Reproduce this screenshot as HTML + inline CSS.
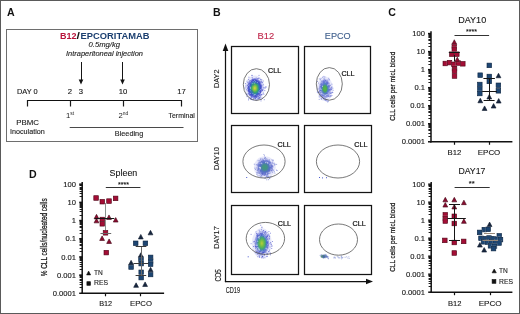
<!DOCTYPE html>
<html><head><meta charset="utf-8"><style>
html,body{margin:0;padding:0;background:#fff;}
svg{display:block;will-change:transform;}
text{font-family:"Liberation Sans",sans-serif;}
</style></head><body>
<svg width="520" height="314" viewBox="0 0 520 314">
<rect x="0" y="0" width="520" height="314" fill="#fff"/>
<text x="7" y="15.6" font-size="10.6" fill="#111" text-anchor="start" font-weight="bold" >A</text>
<rect x="6.5" y="29.5" width="191" height="112" fill="none" stroke="#6e6e6e" stroke-width="1"/>
<text x="60" y="39" font-size="9.1" fill="#b8123a" text-anchor="start" font-weight="bold" textLength="16.5" lengthAdjust="spacingAndGlyphs" >B12</text>
<text x="76.6" y="39" font-size="9.1" fill="#111" text-anchor="start" font-weight="bold" textLength="3.4" lengthAdjust="spacingAndGlyphs" >/</text>
<text x="80.6" y="39" font-size="9.1" fill="#1b3f70" text-anchor="start" font-weight="bold" textLength="68.8" lengthAdjust="spacingAndGlyphs" >EPCORITAMAB</text>
<text x="88.5" y="47.3" font-size="7.7" fill="#222" text-anchor="start" font-style="italic" textLength="31.5" lengthAdjust="spacingAndGlyphs"  stroke="#222" stroke-width="0.12">0.5mg/kg</text>
<text x="66" y="55.6" font-size="7.6" fill="#222" text-anchor="start" font-style="italic" textLength="77" lengthAdjust="spacingAndGlyphs"  stroke="#222" stroke-width="0.12">Intraperitoneal injection</text>
<line x1="81.5" y1="62" x2="81.5" y2="80" stroke="#151515" stroke-width="1"/>
<path d="M78.7 79.5L83.3 79.5L81 84.5Z" fill="#111"/>
<line x1="122.5" y1="62" x2="122.5" y2="80" stroke="#151515" stroke-width="1"/>
<path d="M120.2 79.5L124.8 79.5L122.5 84.5Z" fill="#111"/>
<text x="17" y="94" font-size="7.9" fill="#151515" text-anchor="start" textLength="20.7" lengthAdjust="spacingAndGlyphs"  stroke="#151515" stroke-width="0.12">DAY 0</text>
<text x="70" y="94" font-size="7.7" fill="#151515" text-anchor="middle"  stroke="#151515" stroke-width="0.12">2</text>
<text x="81" y="94" font-size="7.7" fill="#151515" text-anchor="middle"  stroke="#151515" stroke-width="0.12">3</text>
<text x="123" y="94" font-size="7.7" fill="#151515" text-anchor="middle"  stroke="#151515" stroke-width="0.12">10</text>
<text x="181.5" y="94" font-size="7.7" fill="#151515" text-anchor="middle"  stroke="#151515" stroke-width="0.12">17</text>
<line x1="27" y1="100.5" x2="182" y2="100.5" stroke="#111" stroke-width="1.2"/>
<line x1="27.5" y1="100" x2="27.5" y2="106.5" stroke="#1a1a1a" stroke-width="1.2"/>
<line x1="70.5" y1="100" x2="70.5" y2="106.5" stroke="#1a1a1a" stroke-width="1.2"/>
<line x1="123.5" y1="100" x2="123.5" y2="106.5" stroke="#1a1a1a" stroke-width="1.2"/>
<line x1="181.5" y1="100" x2="181.5" y2="106.5" stroke="#1a1a1a" stroke-width="1.2"/>
<text x="66" y="117.7" font-size="7.7" fill="#222">1<tspan font-size="4.9" dy="-3.2">st</tspan></text>
<text x="118.4" y="117.7" font-size="7.7" fill="#222">2<tspan font-size="4.9" dy="-3.2">nd</tspan></text>
<text x="168.5" y="118" font-size="7.6" fill="#1c1c1c" text-anchor="start" textLength="26.3" lengthAdjust="spacingAndGlyphs"  stroke="#1c1c1c" stroke-width="0.12">Terminal</text>
<text x="16.2" y="124.7" font-size="8.0" fill="#1c1c1c" text-anchor="start" textLength="22.7" lengthAdjust="spacingAndGlyphs"  stroke="#1c1c1c" stroke-width="0.12">PBMC</text>
<text x="10" y="134" font-size="7.6" fill="#1c1c1c" text-anchor="start" textLength="34.8" lengthAdjust="spacingAndGlyphs"  stroke="#1c1c1c" stroke-width="0.12">Inoculation</text>
<line x1="69.7" y1="127.5" x2="183.5" y2="127.5" stroke="#4a4a4a" stroke-width="1.1"/>
<text x="114.8" y="136" font-size="7.7" fill="#1c1c1c" text-anchor="start" textLength="28.4" lengthAdjust="spacingAndGlyphs"  stroke="#1c1c1c" stroke-width="0.12">Bleeding</text>
<text x="213" y="15.9" font-size="10.6" fill="#111" text-anchor="start" font-weight="bold" >B</text>
<text x="257.6" y="39" font-size="9" fill="#c0284c" text-anchor="start" textLength="16.7" lengthAdjust="spacingAndGlyphs"  stroke="#c0284c" stroke-width="0.12">B12</text>
<text x="324.8" y="38.6" font-size="9" fill="#3f5f8c" text-anchor="start" textLength="25.9" lengthAdjust="spacingAndGlyphs"  stroke="#3f5f8c" stroke-width="0.12">EPCO</text>
<rect x="231.5" y="46.5" width="67.0" height="67.0" fill="none" stroke="#141414" stroke-width="1.25"/>
<rect x="304.5" y="46.5" width="66.0" height="67.0" fill="none" stroke="#141414" stroke-width="1.25"/>
<rect x="231.5" y="125.5" width="67.0" height="67.0" fill="none" stroke="#141414" stroke-width="1.25"/>
<rect x="304.5" y="125.5" width="67.0" height="67.0" fill="none" stroke="#141414" stroke-width="1.25"/>
<rect x="231.5" y="205.5" width="67.0" height="69.0" fill="none" stroke="#141414" stroke-width="1.25"/>
<rect x="304.5" y="205.5" width="67.0" height="69.0" fill="none" stroke="#141414" stroke-width="1.25"/>
<line x1="225.5" y1="49" x2="225.5" y2="282.1" stroke="#111" stroke-width="1.25"/>
<path d="M225.5 43.5L228.3 51L222.7 51Z" fill="#111"/>
<line x1="224.9" y1="281.5" x2="367" y2="281.5" stroke="#111" stroke-width="1.25"/>
<path d="M373 281.5L366 278.7L366 284.3Z" fill="#111"/>
<text x="219.2" y="78.7" font-size="7" fill="#222" text-anchor="middle" textLength="18.4" lengthAdjust="spacingAndGlyphs" transform="rotate(-90 219.2 78.7)"  stroke="#222" stroke-width="0.12">DAY2</text>
<text x="219.2" y="158.5" font-size="7" fill="#222" text-anchor="middle" textLength="23" lengthAdjust="spacingAndGlyphs" transform="rotate(-90 219.2 158.5)"  stroke="#222" stroke-width="0.12">DAY10</text>
<text x="219.2" y="237.5" font-size="7" fill="#222" text-anchor="middle" textLength="22.3" lengthAdjust="spacingAndGlyphs" transform="rotate(-90 219.2 237.5)"  stroke="#222" stroke-width="0.12">DAY17</text>
<text x="220.6" y="275.4" font-size="9.4" fill="#1a1a1a" text-anchor="middle" textLength="12.2" lengthAdjust="spacingAndGlyphs" transform="rotate(-90 220.6 275.4)" stroke="#1a1a1a" stroke-width="0.12">CD5</text>
<text x="225.7" y="292.5" font-size="9.4" fill="#1a1a1a" text-anchor="start" textLength="14.3" lengthAdjust="spacingAndGlyphs" stroke="#1a1a1a" stroke-width="0.12">CD19</text>
<defs><radialGradient id="bg1"><stop offset="0" stop-color="#e0d43a" stop-opacity="1"/><stop offset="0.22" stop-color="#8cc444" stop-opacity="1"/><stop offset="0.42" stop-color="#3aa868" stop-opacity="1"/><stop offset="0.6" stop-color="#2f78b8" stop-opacity="1"/><stop offset="0.78" stop-color="#3a44c8" stop-opacity="0.95"/><stop offset="1" stop-color="#5a62d6" stop-opacity="0.45"/></radialGradient></defs>
<ellipse cx="254.8" cy="88.2" rx="9.9" ry="12.8" fill="#a0a4ec" opacity="0.25"/>
<ellipse cx="254.8" cy="88.2" rx="7.6" ry="10.2" fill="url(#bg1)" opacity="1.0"/>
<rect x="250.8" y="99.0" width="1" height="1" fill="#4048c8" opacity="0.55"/>
<rect x="263.4" y="93.8" width="1" height="1" fill="#4048c8" opacity="0.55"/>
<rect x="247.8" y="86.0" width="1" height="1" fill="#4048c8" opacity="0.55"/>
<rect x="246.8" y="87.7" width="1" height="1" fill="#4048c8" opacity="0.55"/>
<rect x="261.6" y="90.4" width="1" height="1" fill="#4048c8" opacity="0.55"/>
<rect x="261.4" y="93.9" width="1" height="1" fill="#4048c8" opacity="0.55"/>
<rect x="247.7" y="93.1" width="1" height="1" fill="#4048c8" opacity="0.55"/>
<rect x="255.9" y="97.2" width="1" height="1" fill="#4048c8" opacity="0.55"/>
<rect x="248.1" y="78.9" width="1" height="1" fill="#4048c8" opacity="0.55"/>
<rect x="249.3" y="93.8" width="1" height="1" fill="#4048c8" opacity="0.55"/>
<rect x="265.4" y="86.1" width="1" height="1" fill="#4048c8" opacity="0.55"/>
<rect x="252.7" y="99.3" width="1" height="1" fill="#4048c8" opacity="0.55"/>
<rect x="260.1" y="97.4" width="1" height="1" fill="#4048c8" opacity="0.55"/>
<rect x="258.3" y="77.7" width="1" height="1" fill="#4048c8" opacity="0.55"/>
<rect x="257.1" y="94.9" width="1" height="1" fill="#4048c8" opacity="0.55"/>
<rect x="250.3" y="94.4" width="1" height="1" fill="#4048c8" opacity="0.55"/>
<rect x="247.0" y="85.0" width="1" height="1" fill="#4048c8" opacity="0.55"/>
<rect x="256.9" y="98.3" width="1" height="1" fill="#4048c8" opacity="0.55"/>
<rect x="252.1" y="80.5" width="1" height="1" fill="#4048c8" opacity="0.55"/>
<rect x="247.7" y="82.5" width="1" height="1" fill="#4048c8" opacity="0.55"/>
<rect x="248.4" y="90.8" width="1" height="1" fill="#4048c8" opacity="0.55"/>
<rect x="251.5" y="74.9" width="1" height="1" fill="#4048c8" opacity="0.55"/>
<rect x="255.0" y="95.9" width="1" height="1" fill="#4048c8" opacity="0.55"/>
<rect x="259.5" y="81.9" width="1" height="1" fill="#4048c8" opacity="0.55"/>
<rect x="254.0" y="79.6" width="1" height="1" fill="#4048c8" opacity="0.55"/>
<rect x="263.8" y="99.2" width="1" height="1" fill="#4048c8" opacity="0.55"/>
<rect x="248.1" y="93.2" width="1" height="1" fill="#4048c8" opacity="0.55"/>
<rect x="248.2" y="88.8" width="1" height="1" fill="#4048c8" opacity="0.55"/>
<rect x="260.8" y="90.2" width="1" height="1" fill="#4048c8" opacity="0.55"/>
<rect x="250.2" y="85.2" width="1" height="1" fill="#4048c8" opacity="0.55"/>
<rect x="259.5" y="82.0" width="1" height="1" fill="#4048c8" opacity="0.55"/>
<rect x="246.5" y="80.7" width="1" height="1" fill="#4048c8" opacity="0.55"/>
<rect x="250.8" y="85.3" width="1" height="1" fill="#4048c8" opacity="0.55"/>
<rect x="262.8" y="84.3" width="1" height="1" fill="#4048c8" opacity="0.55"/>
<rect x="247.6" y="89.8" width="1" height="1" fill="#4048c8" opacity="0.55"/>
<rect x="252.7" y="79.1" width="1" height="1" fill="#4048c8" opacity="0.55"/>
<rect x="248.4" y="76.7" width="1" height="1" fill="#4048c8" opacity="0.55"/>
<rect x="253.2" y="98.0" width="1" height="1" fill="#4048c8" opacity="0.55"/>
<rect x="249.2" y="94.8" width="1" height="1" fill="#4048c8" opacity="0.55"/>
<rect x="247.7" y="90.5" width="1" height="1" fill="#4048c8" opacity="0.55"/>
<rect x="258.8" y="97.6" width="1" height="1" fill="#4048c8" opacity="0.55"/>
<rect x="255.7" y="77.5" width="1" height="1" fill="#4048c8" opacity="0.55"/>
<rect x="260.0" y="95.6" width="1" height="1" fill="#4048c8" opacity="0.55"/>
<rect x="261.2" y="79.2" width="1" height="1" fill="#4048c8" opacity="0.55"/>
<rect x="259.7" y="91.8" width="1" height="1" fill="#4048c8" opacity="0.55"/>
<rect x="260.9" y="80.8" width="1" height="1" fill="#4048c8" opacity="0.55"/>
<rect x="258.4" y="77.9" width="1" height="1" fill="#4048c8" opacity="0.55"/>
<rect x="249.1" y="92.7" width="1" height="1" fill="#4048c8" opacity="0.55"/>
<rect x="248.0" y="99.4" width="1" height="1" fill="#4048c8" opacity="0.55"/>
<rect x="257.6" y="93.4" width="1" height="1" fill="#4048c8" opacity="0.55"/>
<rect x="258.3" y="97.5" width="1" height="1" fill="#4048c8" opacity="0.55"/>
<rect x="246.0" y="89.3" width="1" height="1" fill="#4048c8" opacity="0.55"/>
<rect x="248.4" y="82.8" width="1" height="1" fill="#4048c8" opacity="0.55"/>
<rect x="248.0" y="93.3" width="1" height="1" fill="#4048c8" opacity="0.55"/>
<rect x="252.2" y="92.0" width="1" height="1" fill="#4048c8" opacity="0.55"/>
<rect x="252.6" y="80.8" width="1" height="1" fill="#4048c8" opacity="0.55"/>
<rect x="249.1" y="87.5" width="1" height="1" fill="#4048c8" opacity="0.55"/>
<rect x="260.4" y="90.8" width="1" height="1" fill="#4048c8" opacity="0.55"/>
<rect x="261.5" y="81.7" width="1" height="1" fill="#4048c8" opacity="0.55"/>
<rect x="256.1" y="82.7" width="1" height="1" fill="#4048c8" opacity="0.55"/>
<rect x="249.4" y="94.1" width="1" height="1" fill="#4048c8" opacity="0.55"/>
<rect x="249.4" y="80.1" width="1" height="1" fill="#4048c8" opacity="0.55"/>
<rect x="262.8" y="92.6" width="1" height="1" fill="#4048c8" opacity="0.55"/>
<rect x="259.0" y="97.4" width="1" height="1" fill="#4048c8" opacity="0.55"/>
<rect x="250.7" y="96.8" width="1" height="1" fill="#4048c8" opacity="0.55"/>
<rect x="259.2" y="96.5" width="1" height="1" fill="#4048c8" opacity="0.55"/>
<rect x="260.7" y="94.1" width="1" height="1" fill="#4048c8" opacity="0.55"/>
<rect x="260.4" y="80.7" width="1" height="1" fill="#4048c8" opacity="0.55"/>
<rect x="248.5" y="80.8" width="1" height="1" fill="#4048c8" opacity="0.55"/>
<rect x="249.8" y="97.7" width="1" height="1" fill="#4048c8" opacity="0.55"/>
<rect x="248.3" y="98.2" width="1" height="1" fill="#4048c8" opacity="0.55"/>
<rect x="264.7" y="87.6" width="1" height="1" fill="#4048c8" opacity="0.55"/>
<rect x="248.1" y="90.2" width="1" height="1" fill="#4048c8" opacity="0.55"/>
<rect x="260.9" y="94.4" width="1" height="1" fill="#4048c8" opacity="0.55"/>
<rect x="250.8" y="96.4" width="1" height="1" fill="#4048c8" opacity="0.55"/>
<rect x="260.5" y="100.4" width="1" height="1" fill="#4048c8" opacity="0.55"/>
<rect x="264.3" y="90.1" width="1" height="1" fill="#4048c8" opacity="0.55"/>
<rect x="259.0" y="95.7" width="1" height="1" fill="#4048c8" opacity="0.55"/>
<rect x="245.5" y="84.7" width="1" height="1" fill="#4048c8" opacity="0.55"/>
<rect x="262.7" y="86.8" width="1" height="1" fill="#4048c8" opacity="0.55"/>
<rect x="259.5" y="80.9" width="1" height="1" fill="#4048c8" opacity="0.55"/>
<rect x="250.5" y="94.6" width="1" height="1" fill="#4048c8" opacity="0.55"/>
<rect x="258.7" y="97.4" width="1" height="1" fill="#4048c8" opacity="0.55"/>
<rect x="255.8" y="80.9" width="1" height="1" fill="#4048c8" opacity="0.55"/>
<rect x="250.9" y="97.8" width="1" height="1" fill="#4048c8" opacity="0.55"/>
<rect x="265.4" y="86.9" width="1" height="1" fill="#4048c8" opacity="0.55"/>
<rect x="260.0" y="78.9" width="1" height="1" fill="#4048c8" opacity="0.55"/>
<rect x="254.5" y="81.9" width="1" height="1" fill="#4048c8" opacity="0.55"/>
<rect x="255.7" y="96.2" width="1" height="1" fill="#4048c8" opacity="0.55"/>
<rect x="262.1" y="90.0" width="1" height="1" fill="#4048c8" opacity="0.55"/>
<rect x="262.0" y="89.9" width="1" height="1" fill="#4048c8" opacity="0.55"/>
<rect x="251.7" y="77.1" width="1" height="1" fill="#4048c8" opacity="0.55"/>
<rect x="258.5" y="86.8" width="1" height="1" fill="#4048c8" opacity="0.55"/>
<rect x="263.7" y="87.3" width="1" height="1" fill="#4048c8" opacity="0.55"/>
<rect x="261.4" y="85.6" width="1" height="1" fill="#4048c8" opacity="0.55"/>
<rect x="256.0" y="99.5" width="1" height="1" fill="#4048c8" opacity="0.55"/>
<rect x="257.5" y="98.7" width="1" height="1" fill="#4048c8" opacity="0.55"/>
<rect x="262.8" y="80.5" width="1" height="1" fill="#4048c8" opacity="0.55"/>
<rect x="257.6" y="82.3" width="1" height="1" fill="#4048c8" opacity="0.55"/>
<rect x="257.2" y="78.1" width="1" height="1" fill="#4048c8" opacity="0.55"/>
<rect x="259.7" y="92.0" width="1" height="1" fill="#4048c8" opacity="0.55"/>
<rect x="255.7" y="82.3" width="1" height="1" fill="#4048c8" opacity="0.55"/>
<rect x="254.8" y="79.4" width="1" height="1" fill="#4048c8" opacity="0.55"/>
<rect x="256.7" y="78.1" width="1" height="1" fill="#4048c8" opacity="0.55"/>
<rect x="250.3" y="98.7" width="1" height="1" fill="#4048c8" opacity="0.55"/>
<rect x="252.1" y="90.9" width="1" height="1" fill="#4048c8" opacity="0.55"/>
<rect x="246.5" y="96.1" width="1" height="1" fill="#4048c8" opacity="0.55"/>
<rect x="258.0" y="96.1" width="1" height="1" fill="#4048c8" opacity="0.55"/>
<rect x="261.6" y="97.5" width="1" height="1" fill="#4048c8" opacity="0.55"/>
<rect x="258.5" y="74.9" width="1" height="1" fill="#4048c8" opacity="0.55"/>
<rect x="260.7" y="98.6" width="1" height="1" fill="#4048c8" opacity="0.55"/>
<rect x="252.9" y="84.3" width="1" height="1" fill="#4048c8" opacity="0.55"/>
<rect x="250.8" y="95.5" width="1" height="1" fill="#4048c8" opacity="0.55"/>
<rect x="262.1" y="89.1" width="1" height="1" fill="#4048c8" opacity="0.55"/>
<rect x="261.1" y="86.6" width="1" height="1" fill="#4048c8" opacity="0.55"/>
<rect x="260.2" y="85.0" width="1" height="1" fill="#4048c8" opacity="0.55"/>
<rect x="245.9" y="93.5" width="1" height="1" fill="#4048c8" opacity="0.55"/>
<rect x="256.1" y="95.2" width="1" height="1" fill="#4048c8" opacity="0.55"/>
<rect x="254.7" y="98.0" width="1" height="1" fill="#4048c8" opacity="0.55"/>
<rect x="247.3" y="82.1" width="1" height="1" fill="#4048c8" opacity="0.55"/>
<rect x="254.4" y="97.3" width="1" height="1" fill="#4048c8" opacity="0.55"/>
<rect x="261.6" y="82.4" width="1" height="1" fill="#4048c8" opacity="0.55"/>
<rect x="251.5" y="94.0" width="1" height="1" fill="#4048c8" opacity="0.55"/>
<rect x="261.5" y="82.0" width="1" height="1" fill="#4048c8" opacity="0.55"/>
<rect x="246.6" y="94.2" width="1" height="1" fill="#4048c8" opacity="0.55"/>
<rect x="248.3" y="86.4" width="1" height="1" fill="#4048c8" opacity="0.55"/>
<rect x="245.5" y="86.3" width="1" height="1" fill="#4048c8" opacity="0.55"/>
<rect x="258.0" y="97.8" width="1" height="1" fill="#4048c8" opacity="0.55"/>
<rect x="262.7" y="88.5" width="1" height="1" fill="#4048c8" opacity="0.55"/>
<rect x="248.3" y="89.7" width="1" height="1" fill="#4048c8" opacity="0.55"/>
<rect x="253.8" y="80.0" width="1" height="1" fill="#4048c8" opacity="0.55"/>
<rect x="247.8" y="87.1" width="1" height="1" fill="#4048c8" opacity="0.55"/>
<rect x="247.5" y="84.6" width="1" height="1" fill="#4048c8" opacity="0.55"/>
<rect x="248.5" y="84.8" width="1" height="1" fill="#4048c8" opacity="0.55"/>
<rect x="254.9" y="97.7" width="1" height="1" fill="#4048c8" opacity="0.55"/>
<rect x="244.4" y="87.5" width="1" height="1" fill="#4048c8" opacity="0.55"/>
<rect x="247.6" y="84.2" width="1" height="1" fill="#4048c8" opacity="0.55"/>
<rect x="251.1" y="90.0" width="1" height="1" fill="#4048c8" opacity="0.55"/>
<rect x="250.5" y="83.3" width="1" height="1" fill="#4048c8" opacity="0.55"/>
<rect x="252.1" y="78.7" width="1" height="1" fill="#4048c8" opacity="0.55"/>
<rect x="249.3" y="90.5" width="1" height="1" fill="#4048c8" opacity="0.55"/>
<rect x="261.5" y="84.7" width="1" height="1" fill="#4048c8" opacity="0.55"/>
<rect x="251.5" y="74.9" width="1" height="1" fill="#4048c8" opacity="0.55"/>
<rect x="254.5" y="94.6" width="1" height="1" fill="#4048c8" opacity="0.55"/>
<rect x="244.9" y="83.0" width="1" height="1" fill="#4048c8" opacity="0.55"/>
<rect x="259.0" y="94.8" width="1" height="1" fill="#4048c8" opacity="0.55"/>
<rect x="259.8" y="94.7" width="1" height="1" fill="#4048c8" opacity="0.55"/>
<rect x="255.3" y="98.7" width="1" height="1" fill="#4048c8" opacity="0.55"/>
<rect x="260.3" y="91.9" width="1" height="1" fill="#4048c8" opacity="0.55"/>
<rect x="258.8" y="84.1" width="1" height="1" fill="#4048c8" opacity="0.55"/>
<rect x="258.5" y="95.5" width="0.9" height="0.9" fill="#fff" opacity="0.45"/>
<rect x="252.3" y="82.9" width="0.9" height="0.9" fill="#fff" opacity="0.45"/>
<rect x="260.3" y="81.5" width="0.9" height="0.9" fill="#fff" opacity="0.45"/>
<rect x="256.2" y="98.0" width="0.9" height="0.9" fill="#fff" opacity="0.45"/>
<rect x="250.1" y="92.9" width="0.9" height="0.9" fill="#fff" opacity="0.45"/>
<rect x="261.8" y="87.6" width="0.9" height="0.9" fill="#fff" opacity="0.45"/>
<rect x="257.8" y="94.6" width="0.9" height="0.9" fill="#fff" opacity="0.45"/>
<rect x="249.5" y="87.5" width="0.9" height="0.9" fill="#fff" opacity="0.45"/>
<rect x="256.6" y="94.9" width="0.9" height="0.9" fill="#fff" opacity="0.45"/>
<rect x="254.1" y="82.6" width="0.9" height="0.9" fill="#fff" opacity="0.45"/>
<rect x="249.4" y="85.7" width="0.9" height="0.9" fill="#fff" opacity="0.45"/>
<rect x="260.1" y="89.0" width="0.9" height="0.9" fill="#fff" opacity="0.45"/>
<rect x="250.6" y="82.6" width="0.9" height="0.9" fill="#fff" opacity="0.45"/>
<rect x="261.7" y="92.2" width="0.9" height="0.9" fill="#fff" opacity="0.45"/>
<rect x="256.6" y="78.4" width="0.9" height="0.9" fill="#fff" opacity="0.45"/>
<rect x="258.8" y="92.4" width="0.9" height="0.9" fill="#fff" opacity="0.45"/>
<rect x="261.4" y="90.5" width="0.9" height="0.9" fill="#fff" opacity="0.45"/>
<rect x="254.2" y="94.4" width="0.9" height="0.9" fill="#fff" opacity="0.45"/>
<rect x="248.4" y="92.8" width="0.9" height="0.9" fill="#fff" opacity="0.45"/>
<rect x="256.9" y="82.0" width="0.9" height="0.9" fill="#fff" opacity="0.45"/>
<rect x="259.1" y="96.1" width="0.9" height="0.9" fill="#fff" opacity="0.45"/>
<rect x="248.9" y="84.4" width="0.9" height="0.9" fill="#fff" opacity="0.45"/>
<rect x="258.5" y="91.3" width="0.9" height="0.9" fill="#fff" opacity="0.45"/>
<rect x="252.7" y="81.2" width="0.9" height="0.9" fill="#fff" opacity="0.45"/>
<rect x="261.4" y="92.6" width="0.9" height="0.9" fill="#fff" opacity="0.45"/>
<rect x="250.2" y="81.3" width="0.9" height="0.9" fill="#fff" opacity="0.45"/>
<rect x="260.9" y="93.0" width="0.9" height="0.9" fill="#fff" opacity="0.45"/>
<rect x="261.3" y="92.1" width="0.9" height="0.9" fill="#fff" opacity="0.45"/>
<rect x="249.7" y="90.3" width="0.9" height="0.9" fill="#fff" opacity="0.45"/>
<rect x="247.9" y="85.0" width="0.9" height="0.9" fill="#fff" opacity="0.45"/>
<rect x="254.3" y="94.4" width="0.9" height="0.9" fill="#fff" opacity="0.45"/>
<rect x="249.9" y="87.1" width="0.9" height="0.9" fill="#fff" opacity="0.45"/>
<rect x="258.5" y="92.2" width="0.9" height="0.9" fill="#fff" opacity="0.45"/>
<rect x="259.4" y="90.2" width="0.9" height="0.9" fill="#fff" opacity="0.45"/>
<rect x="252.8" y="94.7" width="0.9" height="0.9" fill="#fff" opacity="0.45"/>
<rect x="255.1" y="81.3" width="0.9" height="0.9" fill="#fff" opacity="0.45"/>
<rect x="250.0" y="88.2" width="0.9" height="0.9" fill="#fff" opacity="0.45"/>
<rect x="252.4" y="92.9" width="0.9" height="0.9" fill="#fff" opacity="0.45"/>
<rect x="254.8" y="93.9" width="0.9" height="0.9" fill="#fff" opacity="0.45"/>
<rect x="254.2" y="80.1" width="0.9" height="0.9" fill="#fff" opacity="0.45"/>
<defs><radialGradient id="bg2"><stop offset="0" stop-color="#5cb83c" stop-opacity="1"/><stop offset="0.3" stop-color="#4aa858" stop-opacity="1"/><stop offset="0.5" stop-color="#4476c0" stop-opacity="0.92"/><stop offset="0.75" stop-color="#4a5acc" stop-opacity="0.75"/><stop offset="1" stop-color="#7078d8" stop-opacity="0.3"/></radialGradient></defs>
<ellipse cx="324.9" cy="88.8" rx="8.1" ry="12.2" fill="#a0a4ec" opacity="0.25"/>
<ellipse cx="324.9" cy="88.8" rx="6.2" ry="9.8" fill="url(#bg2)" opacity="1.0"/>
<rect x="326.0" y="93.3" width="1" height="1" fill="#5a64d0" opacity="0.55"/>
<rect x="330.2" y="95.4" width="1" height="1" fill="#5a64d0" opacity="0.55"/>
<rect x="326.9" y="82.0" width="1" height="1" fill="#5a64d0" opacity="0.55"/>
<rect x="328.4" y="79.5" width="1" height="1" fill="#5a64d0" opacity="0.55"/>
<rect x="321.7" y="92.9" width="1" height="1" fill="#5a64d0" opacity="0.55"/>
<rect x="331.0" y="87.7" width="1" height="1" fill="#5a64d0" opacity="0.55"/>
<rect x="320.9" y="98.4" width="1" height="1" fill="#5a64d0" opacity="0.55"/>
<rect x="322.0" y="83.6" width="1" height="1" fill="#5a64d0" opacity="0.55"/>
<rect x="320.0" y="94.1" width="1" height="1" fill="#5a64d0" opacity="0.55"/>
<rect x="329.4" y="96.4" width="1" height="1" fill="#5a64d0" opacity="0.55"/>
<rect x="330.4" y="93.0" width="1" height="1" fill="#5a64d0" opacity="0.55"/>
<rect x="327.6" y="95.8" width="1" height="1" fill="#5a64d0" opacity="0.55"/>
<rect x="331.5" y="95.0" width="1" height="1" fill="#5a64d0" opacity="0.55"/>
<rect x="323.0" y="83.4" width="1" height="1" fill="#5a64d0" opacity="0.55"/>
<rect x="323.7" y="98.5" width="1" height="1" fill="#5a64d0" opacity="0.55"/>
<rect x="317.8" y="91.7" width="1" height="1" fill="#5a64d0" opacity="0.55"/>
<rect x="327.8" y="95.7" width="1" height="1" fill="#5a64d0" opacity="0.55"/>
<rect x="331.3" y="86.3" width="1" height="1" fill="#5a64d0" opacity="0.55"/>
<rect x="330.0" y="87.4" width="1" height="1" fill="#5a64d0" opacity="0.55"/>
<rect x="330.7" y="86.8" width="1" height="1" fill="#5a64d0" opacity="0.55"/>
<rect x="322.6" y="97.9" width="1" height="1" fill="#5a64d0" opacity="0.55"/>
<rect x="320.3" y="95.5" width="1" height="1" fill="#5a64d0" opacity="0.55"/>
<rect x="319.7" y="90.1" width="1" height="1" fill="#5a64d0" opacity="0.55"/>
<rect x="318.7" y="88.5" width="1" height="1" fill="#5a64d0" opacity="0.55"/>
<rect x="331.0" y="89.1" width="1" height="1" fill="#5a64d0" opacity="0.55"/>
<rect x="319.4" y="95.1" width="1" height="1" fill="#5a64d0" opacity="0.55"/>
<rect x="332.0" y="91.8" width="1" height="1" fill="#5a64d0" opacity="0.55"/>
<rect x="325.6" y="98.8" width="1" height="1" fill="#5a64d0" opacity="0.55"/>
<rect x="321.5" y="85.6" width="1" height="1" fill="#5a64d0" opacity="0.55"/>
<rect x="321.7" y="81.2" width="1" height="1" fill="#5a64d0" opacity="0.55"/>
<rect x="323.4" y="77.7" width="1" height="1" fill="#5a64d0" opacity="0.55"/>
<rect x="322.5" y="96.2" width="1" height="1" fill="#5a64d0" opacity="0.55"/>
<rect x="332.4" y="87.7" width="1" height="1" fill="#5a64d0" opacity="0.55"/>
<rect x="319.9" y="78.9" width="1" height="1" fill="#5a64d0" opacity="0.55"/>
<rect x="332.3" y="92.1" width="1" height="1" fill="#5a64d0" opacity="0.55"/>
<rect x="322.3" y="84.6" width="1" height="1" fill="#5a64d0" opacity="0.55"/>
<rect x="324.2" y="78.6" width="1" height="1" fill="#5a64d0" opacity="0.55"/>
<rect x="319.5" y="87.5" width="1" height="1" fill="#5a64d0" opacity="0.55"/>
<rect x="317.4" y="88.5" width="1" height="1" fill="#5a64d0" opacity="0.55"/>
<rect x="326.8" y="83.1" width="1" height="1" fill="#5a64d0" opacity="0.55"/>
<rect x="318.1" y="82.6" width="1" height="1" fill="#5a64d0" opacity="0.55"/>
<rect x="323.2" y="81.5" width="1" height="1" fill="#5a64d0" opacity="0.55"/>
<rect x="325.8" y="99.6" width="1" height="1" fill="#5a64d0" opacity="0.55"/>
<rect x="320.8" y="96.5" width="1" height="1" fill="#5a64d0" opacity="0.55"/>
<rect x="330.5" y="95.7" width="1" height="1" fill="#5a64d0" opacity="0.55"/>
<rect x="321.6" y="83.5" width="1" height="1" fill="#5a64d0" opacity="0.55"/>
<rect x="321.0" y="82.6" width="1" height="1" fill="#5a64d0" opacity="0.55"/>
<rect x="329.7" y="89.0" width="1" height="1" fill="#5a64d0" opacity="0.55"/>
<rect x="326.7" y="79.5" width="1" height="1" fill="#5a64d0" opacity="0.55"/>
<rect x="320.4" y="87.2" width="1" height="1" fill="#5a64d0" opacity="0.55"/>
<rect x="320.5" y="77.8" width="1" height="1" fill="#5a64d0" opacity="0.55"/>
<rect x="324.8" y="100.0" width="1" height="1" fill="#5a64d0" opacity="0.55"/>
<rect x="330.2" y="93.1" width="1" height="1" fill="#5a64d0" opacity="0.55"/>
<rect x="327.2" y="101.5" width="1" height="1" fill="#5a64d0" opacity="0.55"/>
<rect x="324.4" y="76.5" width="1" height="1" fill="#5a64d0" opacity="0.55"/>
<rect x="320.5" y="95.1" width="1" height="1" fill="#5a64d0" opacity="0.55"/>
<rect x="319.7" y="89.9" width="1" height="1" fill="#5a64d0" opacity="0.55"/>
<rect x="321.9" y="84.5" width="1" height="1" fill="#5a64d0" opacity="0.55"/>
<rect x="320.6" y="80.3" width="1" height="1" fill="#5a64d0" opacity="0.55"/>
<rect x="324.7" y="99.2" width="1" height="1" fill="#5a64d0" opacity="0.55"/>
<rect x="324.7" y="79.9" width="1" height="1" fill="#5a64d0" opacity="0.55"/>
<rect x="332.7" y="89.8" width="1" height="1" fill="#5a64d0" opacity="0.55"/>
<rect x="330.4" y="92.3" width="1" height="1" fill="#5a64d0" opacity="0.55"/>
<rect x="322.0" y="76.7" width="1" height="1" fill="#5a64d0" opacity="0.55"/>
<rect x="322.3" y="80.6" width="1" height="1" fill="#5a64d0" opacity="0.55"/>
<rect x="317.3" y="91.5" width="1" height="1" fill="#5a64d0" opacity="0.55"/>
<rect x="316.8" y="91.6" width="1" height="1" fill="#5a64d0" opacity="0.55"/>
<rect x="327.5" y="101.0" width="1" height="1" fill="#5a64d0" opacity="0.55"/>
<rect x="331.3" y="87.4" width="1" height="1" fill="#5a64d0" opacity="0.55"/>
<rect x="319.0" y="91.3" width="1" height="1" fill="#5a64d0" opacity="0.55"/>
<rect x="328.2" y="77.8" width="1" height="1" fill="#5a64d0" opacity="0.55"/>
<rect x="324.2" y="98.1" width="1" height="1" fill="#5a64d0" opacity="0.55"/>
<rect x="326.7" y="99.6" width="1" height="1" fill="#5a64d0" opacity="0.55"/>
<rect x="319.8" y="84.2" width="1" height="1" fill="#5a64d0" opacity="0.55"/>
<rect x="326.7" y="92.3" width="1" height="1" fill="#5a64d0" opacity="0.55"/>
<rect x="328.7" y="95.5" width="1" height="1" fill="#5a64d0" opacity="0.55"/>
<rect x="326.3" y="84.0" width="1" height="1" fill="#5a64d0" opacity="0.55"/>
<rect x="323.2" y="79.7" width="1" height="1" fill="#5a64d0" opacity="0.55"/>
<rect x="325.8" y="100.5" width="1" height="1" fill="#5a64d0" opacity="0.55"/>
<rect x="330.1" y="90.1" width="1" height="1" fill="#5a64d0" opacity="0.55"/>
<rect x="329.6" y="89.0" width="1" height="1" fill="#5a64d0" opacity="0.55"/>
<rect x="322.9" y="98.2" width="1" height="1" fill="#5a64d0" opacity="0.55"/>
<rect x="328.4" y="95.6" width="1" height="1" fill="#5a64d0" opacity="0.55"/>
<rect x="328.8" y="79.2" width="1" height="1" fill="#5a64d0" opacity="0.55"/>
<rect x="331.1" y="88.9" width="1" height="1" fill="#5a64d0" opacity="0.55"/>
<rect x="327.5" y="92.7" width="1" height="1" fill="#5a64d0" opacity="0.55"/>
<rect x="329.8" y="84.9" width="1" height="1" fill="#5a64d0" opacity="0.55"/>
<rect x="324.1" y="93.9" width="1" height="1" fill="#5a64d0" opacity="0.55"/>
<rect x="323.3" y="91.4" width="1" height="1" fill="#5a64d0" opacity="0.55"/>
<rect x="317.0" y="81.0" width="1" height="1" fill="#5a64d0" opacity="0.55"/>
<rect x="321.6" y="95.1" width="1" height="1" fill="#5a64d0" opacity="0.55"/>
<rect x="331.3" y="92.0" width="1" height="1" fill="#5a64d0" opacity="0.55"/>
<rect x="330.3" y="95.2" width="1" height="1" fill="#5a64d0" opacity="0.55"/>
<rect x="329.7" y="85.5" width="1" height="1" fill="#5a64d0" opacity="0.55"/>
<rect x="324.9" y="98.3" width="1" height="1" fill="#5a64d0" opacity="0.55"/>
<rect x="327.8" y="100.3" width="1" height="1" fill="#5a64d0" opacity="0.55"/>
<rect x="318.7" y="98.9" width="1" height="1" fill="#5a64d0" opacity="0.55"/>
<rect x="327.0" y="80.9" width="1" height="1" fill="#5a64d0" opacity="0.55"/>
<rect x="318.8" y="78.4" width="1" height="1" fill="#5a64d0" opacity="0.55"/>
<rect x="320.6" y="86.6" width="1" height="1" fill="#5a64d0" opacity="0.55"/>
<rect x="323.3" y="75.9" width="1" height="1" fill="#5a64d0" opacity="0.55"/>
<rect x="318.3" y="92.1" width="1" height="1" fill="#5a64d0" opacity="0.55"/>
<rect x="325.0" y="80.1" width="1" height="1" fill="#5a64d0" opacity="0.55"/>
<rect x="330.0" y="91.3" width="1" height="1" fill="#5a64d0" opacity="0.55"/>
<rect x="331.4" y="83.7" width="1" height="1" fill="#5a64d0" opacity="0.55"/>
<rect x="320.8" y="98.4" width="1" height="1" fill="#5a64d0" opacity="0.55"/>
<rect x="323.1" y="97.8" width="1" height="1" fill="#5a64d0" opacity="0.55"/>
<rect x="324.7" y="92.7" width="1" height="1" fill="#5a64d0" opacity="0.55"/>
<rect x="321.8" y="81.4" width="1" height="1" fill="#5a64d0" opacity="0.55"/>
<rect x="318.7" y="96.4" width="1" height="1" fill="#5a64d0" opacity="0.55"/>
<rect x="326.8" y="94.1" width="0.9" height="0.9" fill="#fff" opacity="0.45"/>
<rect x="326.5" y="97.9" width="0.9" height="0.9" fill="#fff" opacity="0.45"/>
<rect x="320.9" y="88.9" width="0.9" height="0.9" fill="#fff" opacity="0.45"/>
<rect x="330.0" y="83.4" width="0.9" height="0.9" fill="#fff" opacity="0.45"/>
<rect x="321.3" y="90.7" width="0.9" height="0.9" fill="#fff" opacity="0.45"/>
<rect x="326.2" y="94.2" width="0.9" height="0.9" fill="#fff" opacity="0.45"/>
<rect x="322.9" y="93.7" width="0.9" height="0.9" fill="#fff" opacity="0.45"/>
<rect x="325.2" y="95.3" width="0.9" height="0.9" fill="#fff" opacity="0.45"/>
<rect x="319.6" y="84.9" width="0.9" height="0.9" fill="#fff" opacity="0.45"/>
<rect x="324.9" y="81.6" width="0.9" height="0.9" fill="#fff" opacity="0.45"/>
<rect x="320.7" y="92.8" width="0.9" height="0.9" fill="#fff" opacity="0.45"/>
<rect x="321.8" y="93.6" width="0.9" height="0.9" fill="#fff" opacity="0.45"/>
<rect x="328.8" y="91.3" width="0.9" height="0.9" fill="#fff" opacity="0.45"/>
<rect x="328.6" y="87.6" width="0.9" height="0.9" fill="#fff" opacity="0.45"/>
<rect x="319.7" y="88.6" width="0.9" height="0.9" fill="#fff" opacity="0.45"/>
<rect x="327.5" y="84.0" width="0.9" height="0.9" fill="#fff" opacity="0.45"/>
<rect x="324.4" y="95.2" width="0.9" height="0.9" fill="#fff" opacity="0.45"/>
<rect x="321.1" y="93.1" width="0.9" height="0.9" fill="#fff" opacity="0.45"/>
<rect x="330.4" y="86.2" width="0.9" height="0.9" fill="#fff" opacity="0.45"/>
<rect x="327.3" y="84.9" width="0.9" height="0.9" fill="#fff" opacity="0.45"/>
<rect x="330.2" y="90.5" width="0.9" height="0.9" fill="#fff" opacity="0.45"/>
<rect x="328.7" y="84.2" width="0.9" height="0.9" fill="#fff" opacity="0.45"/>
<rect x="322.0" y="86.0" width="0.9" height="0.9" fill="#fff" opacity="0.45"/>
<rect x="320.2" y="94.8" width="0.9" height="0.9" fill="#fff" opacity="0.45"/>
<rect x="327.6" y="80.7" width="0.9" height="0.9" fill="#fff" opacity="0.45"/>
<rect x="328.9" y="87.7" width="0.9" height="0.9" fill="#fff" opacity="0.45"/>
<rect x="327.9" y="92.6" width="0.9" height="0.9" fill="#fff" opacity="0.45"/>
<rect x="319.6" y="87.6" width="0.9" height="0.9" fill="#fff" opacity="0.45"/>
<rect x="330.0" y="85.7" width="0.9" height="0.9" fill="#fff" opacity="0.45"/>
<rect x="321.6" y="81.8" width="0.9" height="0.9" fill="#fff" opacity="0.45"/>
<rect x="320.1" y="90.9" width="0.9" height="0.9" fill="#fff" opacity="0.45"/>
<rect x="330.3" y="91.0" width="0.9" height="0.9" fill="#fff" opacity="0.45"/>
<rect x="325.6" y="98.2" width="0.9" height="0.9" fill="#fff" opacity="0.45"/>
<rect x="322.3" y="83.5" width="0.9" height="0.9" fill="#fff" opacity="0.45"/>
<rect x="327.8" y="93.5" width="0.9" height="0.9" fill="#fff" opacity="0.45"/>
<rect x="321.4" y="82.4" width="0.9" height="0.9" fill="#fff" opacity="0.45"/>
<rect x="327.6" y="92.5" width="0.9" height="0.9" fill="#fff" opacity="0.45"/>
<rect x="319.9" y="87.6" width="0.9" height="0.9" fill="#fff" opacity="0.45"/>
<rect x="321.8" y="92.9" width="0.9" height="0.9" fill="#fff" opacity="0.45"/>
<rect x="322.1" y="85.6" width="0.9" height="0.9" fill="#fff" opacity="0.45"/>
<rect x="323.4" y="95.8" width="0.9" height="0.9" fill="#fff" opacity="0.45"/>
<rect x="329.9" y="86.7" width="0.9" height="0.9" fill="#fff" opacity="0.45"/>
<rect x="328.4" y="83.8" width="0.9" height="0.9" fill="#fff" opacity="0.45"/>
<rect x="325.3" y="95.2" width="0.9" height="0.9" fill="#fff" opacity="0.45"/>
<rect x="330.1" y="86.7" width="0.9" height="0.9" fill="#fff" opacity="0.45"/>
<rect x="323.7" y="93.9" width="0.9" height="0.9" fill="#fff" opacity="0.45"/>
<rect x="319.6" y="88.9" width="0.9" height="0.9" fill="#fff" opacity="0.45"/>
<rect x="321.3" y="91.9" width="0.9" height="0.9" fill="#fff" opacity="0.45"/>
<rect x="321.9" y="80.6" width="0.9" height="0.9" fill="#fff" opacity="0.45"/>
<rect x="325.4" y="94.3" width="0.9" height="0.9" fill="#fff" opacity="0.45"/>
<defs><radialGradient id="bg3"><stop offset="0" stop-color="#3f9a78" stop-opacity="1"/><stop offset="0.3" stop-color="#468e8c" stop-opacity="1"/><stop offset="0.55" stop-color="#4868c0" stop-opacity="0.92"/><stop offset="0.8" stop-color="#4c5cc8" stop-opacity="0.75"/><stop offset="1" stop-color="#7078d8" stop-opacity="0.3"/></radialGradient></defs>
<ellipse cx="264.8" cy="167.3" rx="10.9" ry="11.0" fill="#a0a4ec" opacity="0.25"/>
<ellipse cx="264.8" cy="167.3" rx="8.4" ry="8.8" fill="url(#bg3)" opacity="1.0"/>
<rect x="261.7" y="172.6" width="1" height="1" fill="#5a66c8" opacity="0.55"/>
<rect x="267.9" y="177.0" width="1" height="1" fill="#5a66c8" opacity="0.55"/>
<rect x="267.2" y="159.0" width="1" height="1" fill="#5a66c8" opacity="0.55"/>
<rect x="266.5" y="173.6" width="1" height="1" fill="#5a66c8" opacity="0.55"/>
<rect x="271.8" y="165.9" width="1" height="1" fill="#5a66c8" opacity="0.55"/>
<rect x="266.2" y="179.3" width="1" height="1" fill="#5a66c8" opacity="0.55"/>
<rect x="266.3" y="176.1" width="1" height="1" fill="#5a66c8" opacity="0.55"/>
<rect x="271.3" y="165.2" width="1" height="1" fill="#5a66c8" opacity="0.55"/>
<rect x="255.9" y="167.5" width="1" height="1" fill="#5a66c8" opacity="0.55"/>
<rect x="256.5" y="172.3" width="1" height="1" fill="#5a66c8" opacity="0.55"/>
<rect x="260.0" y="158.8" width="1" height="1" fill="#5a66c8" opacity="0.55"/>
<rect x="258.5" y="172.5" width="1" height="1" fill="#5a66c8" opacity="0.55"/>
<rect x="267.0" y="176.9" width="1" height="1" fill="#5a66c8" opacity="0.55"/>
<rect x="272.6" y="170.1" width="1" height="1" fill="#5a66c8" opacity="0.55"/>
<rect x="269.7" y="169.4" width="1" height="1" fill="#5a66c8" opacity="0.55"/>
<rect x="272.9" y="159.7" width="1" height="1" fill="#5a66c8" opacity="0.55"/>
<rect x="263.4" y="154.1" width="1" height="1" fill="#5a66c8" opacity="0.55"/>
<rect x="260.8" y="175.0" width="1" height="1" fill="#5a66c8" opacity="0.55"/>
<rect x="269.2" y="178.1" width="1" height="1" fill="#5a66c8" opacity="0.55"/>
<rect x="271.9" y="168.8" width="1" height="1" fill="#5a66c8" opacity="0.55"/>
<rect x="261.2" y="160.9" width="1" height="1" fill="#5a66c8" opacity="0.55"/>
<rect x="260.1" y="176.1" width="1" height="1" fill="#5a66c8" opacity="0.55"/>
<rect x="269.6" y="176.4" width="1" height="1" fill="#5a66c8" opacity="0.55"/>
<rect x="259.8" y="174.4" width="1" height="1" fill="#5a66c8" opacity="0.55"/>
<rect x="276.1" y="163.9" width="1" height="1" fill="#5a66c8" opacity="0.55"/>
<rect x="267.9" y="179.2" width="1" height="1" fill="#5a66c8" opacity="0.55"/>
<rect x="258.7" y="175.4" width="1" height="1" fill="#5a66c8" opacity="0.55"/>
<rect x="260.0" y="169.6" width="1" height="1" fill="#5a66c8" opacity="0.55"/>
<rect x="271.1" y="169.4" width="1" height="1" fill="#5a66c8" opacity="0.55"/>
<rect x="272.4" y="162.9" width="1" height="1" fill="#5a66c8" opacity="0.55"/>
<rect x="266.8" y="173.0" width="1" height="1" fill="#5a66c8" opacity="0.55"/>
<rect x="276.0" y="169.6" width="1" height="1" fill="#5a66c8" opacity="0.55"/>
<rect x="256.7" y="172.6" width="1" height="1" fill="#5a66c8" opacity="0.55"/>
<rect x="270.1" y="168.8" width="1" height="1" fill="#5a66c8" opacity="0.55"/>
<rect x="276.7" y="170.1" width="1" height="1" fill="#5a66c8" opacity="0.55"/>
<rect x="264.4" y="177.8" width="1" height="1" fill="#5a66c8" opacity="0.55"/>
<rect x="264.6" y="157.1" width="1" height="1" fill="#5a66c8" opacity="0.55"/>
<rect x="263.8" y="175.0" width="1" height="1" fill="#5a66c8" opacity="0.55"/>
<rect x="271.9" y="165.3" width="1" height="1" fill="#5a66c8" opacity="0.55"/>
<rect x="263.3" y="159.7" width="1" height="1" fill="#5a66c8" opacity="0.55"/>
<rect x="261.4" y="175.3" width="1" height="1" fill="#5a66c8" opacity="0.55"/>
<rect x="265.1" y="158.3" width="1" height="1" fill="#5a66c8" opacity="0.55"/>
<rect x="269.5" y="164.4" width="1" height="1" fill="#5a66c8" opacity="0.55"/>
<rect x="269.8" y="168.1" width="1" height="1" fill="#5a66c8" opacity="0.55"/>
<rect x="265.2" y="171.3" width="1" height="1" fill="#5a66c8" opacity="0.55"/>
<rect x="273.5" y="164.6" width="1" height="1" fill="#5a66c8" opacity="0.55"/>
<rect x="258.5" y="173.0" width="1" height="1" fill="#5a66c8" opacity="0.55"/>
<rect x="254.4" y="167.7" width="1" height="1" fill="#5a66c8" opacity="0.55"/>
<rect x="273.6" y="162.8" width="1" height="1" fill="#5a66c8" opacity="0.55"/>
<rect x="264.0" y="155.3" width="1" height="1" fill="#5a66c8" opacity="0.55"/>
<rect x="268.7" y="159.1" width="1" height="1" fill="#5a66c8" opacity="0.55"/>
<rect x="262.0" y="172.8" width="1" height="1" fill="#5a66c8" opacity="0.55"/>
<rect x="262.1" y="173.3" width="1" height="1" fill="#5a66c8" opacity="0.55"/>
<rect x="274.4" y="172.7" width="1" height="1" fill="#5a66c8" opacity="0.55"/>
<rect x="267.5" y="175.6" width="1" height="1" fill="#5a66c8" opacity="0.55"/>
<rect x="271.2" y="170.2" width="1" height="1" fill="#5a66c8" opacity="0.55"/>
<rect x="271.5" y="168.8" width="1" height="1" fill="#5a66c8" opacity="0.55"/>
<rect x="272.6" y="166.3" width="1" height="1" fill="#5a66c8" opacity="0.55"/>
<rect x="272.1" y="160.4" width="1" height="1" fill="#5a66c8" opacity="0.55"/>
<rect x="272.0" y="171.7" width="1" height="1" fill="#5a66c8" opacity="0.55"/>
<rect x="269.3" y="170.6" width="1" height="1" fill="#5a66c8" opacity="0.55"/>
<rect x="256.8" y="170.2" width="1" height="1" fill="#5a66c8" opacity="0.55"/>
<rect x="265.4" y="173.7" width="1" height="1" fill="#5a66c8" opacity="0.55"/>
<rect x="260.4" y="158.3" width="1" height="1" fill="#5a66c8" opacity="0.55"/>
<rect x="264.7" y="156.9" width="1" height="1" fill="#5a66c8" opacity="0.55"/>
<rect x="269.3" y="171.8" width="1" height="1" fill="#5a66c8" opacity="0.55"/>
<rect x="269.0" y="160.5" width="1" height="1" fill="#5a66c8" opacity="0.55"/>
<rect x="257.3" y="175.3" width="1" height="1" fill="#5a66c8" opacity="0.55"/>
<rect x="264.1" y="158.1" width="1" height="1" fill="#5a66c8" opacity="0.55"/>
<rect x="265.1" y="177.5" width="1" height="1" fill="#5a66c8" opacity="0.55"/>
<rect x="270.6" y="176.1" width="1" height="1" fill="#5a66c8" opacity="0.55"/>
<rect x="261.7" y="173.6" width="1" height="1" fill="#5a66c8" opacity="0.55"/>
<rect x="256.4" y="174.0" width="1" height="1" fill="#5a66c8" opacity="0.55"/>
<rect x="265.8" y="175.9" width="1" height="1" fill="#5a66c8" opacity="0.55"/>
<rect x="266.7" y="162.3" width="1" height="1" fill="#5a66c8" opacity="0.55"/>
<rect x="267.8" y="169.7" width="1" height="1" fill="#5a66c8" opacity="0.55"/>
<rect x="255.0" y="168.9" width="1" height="1" fill="#5a66c8" opacity="0.55"/>
<rect x="269.3" y="164.5" width="1" height="1" fill="#5a66c8" opacity="0.55"/>
<rect x="272.7" y="169.4" width="1" height="1" fill="#5a66c8" opacity="0.55"/>
<rect x="268.2" y="176.3" width="1" height="1" fill="#5a66c8" opacity="0.55"/>
<rect x="269.4" y="166.5" width="1" height="1" fill="#5a66c8" opacity="0.55"/>
<rect x="260.4" y="172.0" width="1" height="1" fill="#5a66c8" opacity="0.55"/>
<rect x="269.5" y="161.8" width="1" height="1" fill="#5a66c8" opacity="0.55"/>
<rect x="266.3" y="158.2" width="1" height="1" fill="#5a66c8" opacity="0.55"/>
<rect x="274.6" y="163.7" width="1" height="1" fill="#5a66c8" opacity="0.55"/>
<rect x="257.6" y="160.2" width="1" height="1" fill="#5a66c8" opacity="0.55"/>
<rect x="266.4" y="175.2" width="1" height="1" fill="#5a66c8" opacity="0.55"/>
<rect x="267.4" y="176.5" width="1" height="1" fill="#5a66c8" opacity="0.55"/>
<rect x="264.6" y="173.8" width="1" height="1" fill="#5a66c8" opacity="0.55"/>
<rect x="266.8" y="174.2" width="1" height="1" fill="#5a66c8" opacity="0.55"/>
<rect x="271.9" y="167.8" width="1" height="1" fill="#5a66c8" opacity="0.55"/>
<rect x="269.1" y="177.7" width="1" height="1" fill="#5a66c8" opacity="0.55"/>
<rect x="261.2" y="176.4" width="1" height="1" fill="#5a66c8" opacity="0.55"/>
<rect x="253.8" y="163.7" width="1" height="1" fill="#5a66c8" opacity="0.55"/>
<rect x="273.9" y="171.3" width="1" height="1" fill="#5a66c8" opacity="0.55"/>
<rect x="255.8" y="164.2" width="1" height="1" fill="#5a66c8" opacity="0.55"/>
<rect x="258.8" y="159.8" width="1" height="1" fill="#5a66c8" opacity="0.55"/>
<rect x="261.8" y="158.4" width="1" height="1" fill="#5a66c8" opacity="0.55"/>
<rect x="258.0" y="171.8" width="1" height="1" fill="#5a66c8" opacity="0.55"/>
<rect x="274.3" y="164.3" width="1" height="1" fill="#5a66c8" opacity="0.55"/>
<rect x="262.2" y="173.9" width="1" height="1" fill="#5a66c8" opacity="0.55"/>
<rect x="258.1" y="171.3" width="1" height="1" fill="#5a66c8" opacity="0.55"/>
<rect x="271.5" y="159.3" width="1" height="1" fill="#5a66c8" opacity="0.55"/>
<rect x="267.5" y="175.6" width="1" height="1" fill="#5a66c8" opacity="0.55"/>
<rect x="263.6" y="158.5" width="1" height="1" fill="#5a66c8" opacity="0.55"/>
<rect x="271.8" y="162.1" width="1" height="1" fill="#5a66c8" opacity="0.55"/>
<rect x="256.6" y="171.7" width="1" height="1" fill="#5a66c8" opacity="0.55"/>
<rect x="269.8" y="162.6" width="1" height="1" fill="#5a66c8" opacity="0.55"/>
<rect x="256.5" y="169.5" width="1" height="1" fill="#5a66c8" opacity="0.55"/>
<rect x="256.6" y="164.4" width="1" height="1" fill="#5a66c8" opacity="0.55"/>
<rect x="259.7" y="160.8" width="0.9" height="0.9" fill="#fff" opacity="0.45"/>
<rect x="270.7" y="171.2" width="0.9" height="0.9" fill="#fff" opacity="0.45"/>
<rect x="260.3" y="172.3" width="0.9" height="0.9" fill="#fff" opacity="0.45"/>
<rect x="268.3" y="172.0" width="0.9" height="0.9" fill="#fff" opacity="0.45"/>
<rect x="256.8" y="166.2" width="0.9" height="0.9" fill="#fff" opacity="0.45"/>
<rect x="269.8" y="171.6" width="0.9" height="0.9" fill="#fff" opacity="0.45"/>
<rect x="267.6" y="159.1" width="0.9" height="0.9" fill="#fff" opacity="0.45"/>
<rect x="266.5" y="172.4" width="0.9" height="0.9" fill="#fff" opacity="0.45"/>
<rect x="272.6" y="164.3" width="0.9" height="0.9" fill="#fff" opacity="0.45"/>
<rect x="260.0" y="167.8" width="0.9" height="0.9" fill="#fff" opacity="0.45"/>
<rect x="270.2" y="164.4" width="0.9" height="0.9" fill="#fff" opacity="0.45"/>
<rect x="270.5" y="163.2" width="0.9" height="0.9" fill="#fff" opacity="0.45"/>
<rect x="267.2" y="162.4" width="0.9" height="0.9" fill="#fff" opacity="0.45"/>
<rect x="266.0" y="161.7" width="0.9" height="0.9" fill="#fff" opacity="0.45"/>
<rect x="258.3" y="171.9" width="0.9" height="0.9" fill="#fff" opacity="0.45"/>
<rect x="267.3" y="162.4" width="0.9" height="0.9" fill="#fff" opacity="0.45"/>
<rect x="266.0" y="173.6" width="0.9" height="0.9" fill="#fff" opacity="0.45"/>
<rect x="258.8" y="166.6" width="0.9" height="0.9" fill="#fff" opacity="0.45"/>
<rect x="268.8" y="171.4" width="0.9" height="0.9" fill="#fff" opacity="0.45"/>
<rect x="263.5" y="159.0" width="0.9" height="0.9" fill="#fff" opacity="0.45"/>
<rect x="271.3" y="169.1" width="0.9" height="0.9" fill="#fff" opacity="0.45"/>
<rect x="265.0" y="162.3" width="0.9" height="0.9" fill="#fff" opacity="0.45"/>
<rect x="267.5" y="162.8" width="0.9" height="0.9" fill="#fff" opacity="0.45"/>
<rect x="259.4" y="163.2" width="0.9" height="0.9" fill="#fff" opacity="0.45"/>
<rect x="260.8" y="163.0" width="0.9" height="0.9" fill="#fff" opacity="0.45"/>
<rect x="258.8" y="170.7" width="0.9" height="0.9" fill="#fff" opacity="0.45"/>
<rect x="258.4" y="170.7" width="0.9" height="0.9" fill="#fff" opacity="0.45"/>
<rect x="258.9" y="169.5" width="0.9" height="0.9" fill="#fff" opacity="0.45"/>
<rect x="271.7" y="168.4" width="0.9" height="0.9" fill="#fff" opacity="0.45"/>
<rect x="259.3" y="167.7" width="0.9" height="0.9" fill="#fff" opacity="0.45"/>
<rect x="265.4" y="159.4" width="0.9" height="0.9" fill="#fff" opacity="0.45"/>
<rect x="259.7" y="168.7" width="0.9" height="0.9" fill="#fff" opacity="0.45"/>
<rect x="259.8" y="168.2" width="0.9" height="0.9" fill="#fff" opacity="0.45"/>
<rect x="269.1" y="172.0" width="0.9" height="0.9" fill="#fff" opacity="0.45"/>
<rect x="270.1" y="170.9" width="0.9" height="0.9" fill="#fff" opacity="0.45"/>
<rect x="260.0" y="167.0" width="0.9" height="0.9" fill="#fff" opacity="0.45"/>
<rect x="261.6" y="163.4" width="0.9" height="0.9" fill="#fff" opacity="0.45"/>
<rect x="264.0" y="159.4" width="0.9" height="0.9" fill="#fff" opacity="0.45"/>
<rect x="260.0" y="166.9" width="0.9" height="0.9" fill="#fff" opacity="0.45"/>
<rect x="258.8" y="167.1" width="0.9" height="0.9" fill="#fff" opacity="0.45"/>
<rect x="269.7" y="165.7" width="0.9" height="0.9" fill="#fff" opacity="0.45"/>
<rect x="270.0" y="160.4" width="0.9" height="0.9" fill="#fff" opacity="0.45"/>
<rect x="263.9" y="159.3" width="0.9" height="0.9" fill="#fff" opacity="0.45"/>
<rect x="267.7" y="175.5" width="0.9" height="0.9" fill="#fff" opacity="0.45"/>
<rect x="256.6" y="167.7" width="0.9" height="0.9" fill="#fff" opacity="0.45"/>
<rect x="269.3" y="164.5" width="0.9" height="0.9" fill="#fff" opacity="0.45"/>
<rect x="266.7" y="159.0" width="0.9" height="0.9" fill="#fff" opacity="0.45"/>
<rect x="270.2" y="169.8" width="0.9" height="0.9" fill="#fff" opacity="0.45"/>
<rect x="265.0" y="161.8" width="0.9" height="0.9" fill="#fff" opacity="0.45"/>
<rect x="269.3" y="163.7" width="0.9" height="0.9" fill="#fff" opacity="0.45"/>
<rect x="266.9" y="162.3" width="0.9" height="0.9" fill="#fff" opacity="0.45"/>
<rect x="256.7" y="167.2" width="0.9" height="0.9" fill="#fff" opacity="0.45"/>
<rect x="266.3" y="173.0" width="0.9" height="0.9" fill="#fff" opacity="0.45"/>
<rect x="259.0" y="167.1" width="0.9" height="0.9" fill="#fff" opacity="0.45"/>
<rect x="270.0" y="168.6" width="0.9" height="0.9" fill="#fff" opacity="0.45"/>
<rect x="269.1" y="174.6" width="0.9" height="0.9" fill="#fff" opacity="0.45"/>
<rect x="261.4" y="159.7" width="0.9" height="0.9" fill="#fff" opacity="0.45"/>
<rect x="268.5" y="174.2" width="0.9" height="0.9" fill="#fff" opacity="0.45"/>
<rect x="269.8" y="171.9" width="0.9" height="0.9" fill="#fff" opacity="0.45"/>
<rect x="260.9" y="162.6" width="0.9" height="0.9" fill="#fff" opacity="0.45"/>
<defs><radialGradient id="bg4"><stop offset="0" stop-color="#b8cc3a" stop-opacity="1"/><stop offset="0.28" stop-color="#6cbc48" stop-opacity="1"/><stop offset="0.48" stop-color="#3aa070" stop-opacity="0.95"/><stop offset="0.64" stop-color="#3a70c0" stop-opacity="0.85"/><stop offset="0.82" stop-color="#4050c8" stop-opacity="0.7"/><stop offset="1" stop-color="#6a70d8" stop-opacity="0.3"/></radialGradient></defs>
<ellipse cx="261.8" cy="243.3" rx="9.9" ry="15.0" fill="#a0a4ec" opacity="0.25"/>
<ellipse cx="261.8" cy="243.3" rx="7.6" ry="12" fill="url(#bg4)" opacity="1.0"/>
<rect x="265.7" y="237.0" width="1" height="1" fill="#4048c8" opacity="0.55"/>
<rect x="266.9" y="236.0" width="1" height="1" fill="#4048c8" opacity="0.55"/>
<rect x="269.7" y="252.9" width="1" height="1" fill="#4048c8" opacity="0.55"/>
<rect x="255.9" y="250.6" width="1" height="1" fill="#4048c8" opacity="0.55"/>
<rect x="263.9" y="232.5" width="1" height="1" fill="#4048c8" opacity="0.55"/>
<rect x="250.6" y="233.9" width="1" height="1" fill="#4048c8" opacity="0.55"/>
<rect x="256.8" y="252.7" width="1" height="1" fill="#4048c8" opacity="0.55"/>
<rect x="264.4" y="251.5" width="1" height="1" fill="#4048c8" opacity="0.55"/>
<rect x="261.4" y="226.6" width="1" height="1" fill="#4048c8" opacity="0.55"/>
<rect x="261.6" y="256.8" width="1" height="1" fill="#4048c8" opacity="0.55"/>
<rect x="255.5" y="231.4" width="1" height="1" fill="#4048c8" opacity="0.55"/>
<rect x="258.0" y="233.3" width="1" height="1" fill="#4048c8" opacity="0.55"/>
<rect x="258.7" y="255.0" width="1" height="1" fill="#4048c8" opacity="0.55"/>
<rect x="266.3" y="253.0" width="1" height="1" fill="#4048c8" opacity="0.55"/>
<rect x="257.5" y="237.2" width="1" height="1" fill="#4048c8" opacity="0.55"/>
<rect x="268.5" y="235.2" width="1" height="1" fill="#4048c8" opacity="0.55"/>
<rect x="267.2" y="252.6" width="1" height="1" fill="#4048c8" opacity="0.55"/>
<rect x="271.7" y="245.5" width="1" height="1" fill="#4048c8" opacity="0.55"/>
<rect x="268.9" y="243.5" width="1" height="1" fill="#4048c8" opacity="0.55"/>
<rect x="256.7" y="253.5" width="1" height="1" fill="#4048c8" opacity="0.55"/>
<rect x="262.7" y="252.1" width="1" height="1" fill="#4048c8" opacity="0.55"/>
<rect x="263.6" y="253.1" width="1" height="1" fill="#4048c8" opacity="0.55"/>
<rect x="257.0" y="235.9" width="1" height="1" fill="#4048c8" opacity="0.55"/>
<rect x="268.9" y="238.6" width="1" height="1" fill="#4048c8" opacity="0.55"/>
<rect x="262.1" y="256.0" width="1" height="1" fill="#4048c8" opacity="0.55"/>
<rect x="256.5" y="233.4" width="1" height="1" fill="#4048c8" opacity="0.55"/>
<rect x="267.3" y="234.2" width="1" height="1" fill="#4048c8" opacity="0.55"/>
<rect x="261.3" y="252.6" width="1" height="1" fill="#4048c8" opacity="0.55"/>
<rect x="268.1" y="244.0" width="1" height="1" fill="#4048c8" opacity="0.55"/>
<rect x="258.3" y="250.8" width="1" height="1" fill="#4048c8" opacity="0.55"/>
<rect x="259.4" y="238.4" width="1" height="1" fill="#4048c8" opacity="0.55"/>
<rect x="260.9" y="229.2" width="1" height="1" fill="#4048c8" opacity="0.55"/>
<rect x="261.9" y="256.0" width="1" height="1" fill="#4048c8" opacity="0.55"/>
<rect x="254.6" y="241.0" width="1" height="1" fill="#4048c8" opacity="0.55"/>
<rect x="255.5" y="250.0" width="1" height="1" fill="#4048c8" opacity="0.55"/>
<rect x="263.3" y="230.6" width="1" height="1" fill="#4048c8" opacity="0.55"/>
<rect x="265.6" y="243.8" width="1" height="1" fill="#4048c8" opacity="0.55"/>
<rect x="265.8" y="251.1" width="1" height="1" fill="#4048c8" opacity="0.55"/>
<rect x="263.7" y="252.4" width="1" height="1" fill="#4048c8" opacity="0.55"/>
<rect x="257.8" y="235.5" width="1" height="1" fill="#4048c8" opacity="0.55"/>
<rect x="265.0" y="231.3" width="1" height="1" fill="#4048c8" opacity="0.55"/>
<rect x="259.0" y="256.6" width="1" height="1" fill="#4048c8" opacity="0.55"/>
<rect x="271.2" y="248.0" width="1" height="1" fill="#4048c8" opacity="0.55"/>
<rect x="260.6" y="234.5" width="1" height="1" fill="#4048c8" opacity="0.55"/>
<rect x="270.9" y="243.9" width="1" height="1" fill="#4048c8" opacity="0.55"/>
<rect x="256.6" y="245.1" width="1" height="1" fill="#4048c8" opacity="0.55"/>
<rect x="261.5" y="233.1" width="1" height="1" fill="#4048c8" opacity="0.55"/>
<rect x="268.1" y="251.0" width="1" height="1" fill="#4048c8" opacity="0.55"/>
<rect x="262.8" y="257.5" width="1" height="1" fill="#4048c8" opacity="0.55"/>
<rect x="261.8" y="230.7" width="1" height="1" fill="#4048c8" opacity="0.55"/>
<rect x="258.7" y="229.8" width="1" height="1" fill="#4048c8" opacity="0.55"/>
<rect x="261.3" y="251.8" width="1" height="1" fill="#4048c8" opacity="0.55"/>
<rect x="257.2" y="240.7" width="1" height="1" fill="#4048c8" opacity="0.55"/>
<rect x="253.1" y="241.3" width="1" height="1" fill="#4048c8" opacity="0.55"/>
<rect x="261.3" y="251.0" width="1" height="1" fill="#4048c8" opacity="0.55"/>
<rect x="262.7" y="249.8" width="1" height="1" fill="#4048c8" opacity="0.55"/>
<rect x="268.3" y="233.7" width="1" height="1" fill="#4048c8" opacity="0.55"/>
<rect x="262.5" y="255.4" width="1" height="1" fill="#4048c8" opacity="0.55"/>
<rect x="261.4" y="227.2" width="1" height="1" fill="#4048c8" opacity="0.55"/>
<rect x="258.7" y="252.6" width="1" height="1" fill="#4048c8" opacity="0.55"/>
<rect x="266.9" y="235.7" width="1" height="1" fill="#4048c8" opacity="0.55"/>
<rect x="269.1" y="235.8" width="1" height="1" fill="#4048c8" opacity="0.55"/>
<rect x="257.2" y="235.5" width="1" height="1" fill="#4048c8" opacity="0.55"/>
<rect x="267.0" y="242.2" width="1" height="1" fill="#4048c8" opacity="0.55"/>
<rect x="253.0" y="246.0" width="1" height="1" fill="#4048c8" opacity="0.55"/>
<rect x="265.2" y="236.6" width="1" height="1" fill="#4048c8" opacity="0.55"/>
<rect x="255.1" y="247.7" width="1" height="1" fill="#4048c8" opacity="0.55"/>
<rect x="259.9" y="251.4" width="1" height="1" fill="#4048c8" opacity="0.55"/>
<rect x="263.5" y="254.2" width="1" height="1" fill="#4048c8" opacity="0.55"/>
<rect x="267.8" y="237.3" width="1" height="1" fill="#4048c8" opacity="0.55"/>
<rect x="267.0" y="253.7" width="1" height="1" fill="#4048c8" opacity="0.55"/>
<rect x="268.8" y="238.0" width="1" height="1" fill="#4048c8" opacity="0.55"/>
<rect x="257.4" y="253.6" width="1" height="1" fill="#4048c8" opacity="0.55"/>
<rect x="269.4" y="246.5" width="1" height="1" fill="#4048c8" opacity="0.55"/>
<rect x="259.7" y="234.6" width="1" height="1" fill="#4048c8" opacity="0.55"/>
<rect x="261.3" y="234.4" width="1" height="1" fill="#4048c8" opacity="0.55"/>
<rect x="267.5" y="247.3" width="1" height="1" fill="#4048c8" opacity="0.55"/>
<rect x="264.6" y="233.6" width="1" height="1" fill="#4048c8" opacity="0.55"/>
<rect x="265.2" y="231.7" width="1" height="1" fill="#4048c8" opacity="0.55"/>
<rect x="266.7" y="234.9" width="1" height="1" fill="#4048c8" opacity="0.55"/>
<rect x="269.0" y="236.5" width="1" height="1" fill="#4048c8" opacity="0.55"/>
<rect x="263.8" y="254.4" width="1" height="1" fill="#4048c8" opacity="0.55"/>
<rect x="270.0" y="254.3" width="1" height="1" fill="#4048c8" opacity="0.55"/>
<rect x="265.0" y="231.2" width="1" height="1" fill="#4048c8" opacity="0.55"/>
<rect x="256.0" y="233.1" width="1" height="1" fill="#4048c8" opacity="0.55"/>
<rect x="260.5" y="251.7" width="1" height="1" fill="#4048c8" opacity="0.55"/>
<rect x="269.8" y="252.5" width="1" height="1" fill="#4048c8" opacity="0.55"/>
<rect x="264.4" y="257.3" width="1" height="1" fill="#4048c8" opacity="0.55"/>
<rect x="258.7" y="253.7" width="1" height="1" fill="#4048c8" opacity="0.55"/>
<rect x="261.5" y="255.5" width="1" height="1" fill="#4048c8" opacity="0.55"/>
<rect x="260.3" y="254.5" width="1" height="1" fill="#4048c8" opacity="0.55"/>
<rect x="259.2" y="251.9" width="1" height="1" fill="#4048c8" opacity="0.55"/>
<rect x="266.0" y="241.8" width="1" height="1" fill="#4048c8" opacity="0.55"/>
<rect x="256.3" y="235.3" width="1" height="1" fill="#4048c8" opacity="0.55"/>
<rect x="267.8" y="245.2" width="1" height="1" fill="#4048c8" opacity="0.55"/>
<rect x="263.0" y="230.0" width="1" height="1" fill="#4048c8" opacity="0.55"/>
<rect x="257.8" y="252.4" width="1" height="1" fill="#4048c8" opacity="0.55"/>
<rect x="263.0" y="252.0" width="1" height="1" fill="#4048c8" opacity="0.55"/>
<rect x="268.4" y="231.0" width="1" height="1" fill="#4048c8" opacity="0.55"/>
<rect x="266.2" y="256.1" width="1" height="1" fill="#4048c8" opacity="0.55"/>
<rect x="270.2" y="243.4" width="1" height="1" fill="#4048c8" opacity="0.55"/>
<rect x="272.0" y="241.0" width="1" height="1" fill="#4048c8" opacity="0.55"/>
<rect x="267.5" y="243.5" width="1" height="1" fill="#4048c8" opacity="0.55"/>
<rect x="264.0" y="231.6" width="1" height="1" fill="#4048c8" opacity="0.55"/>
<rect x="264.2" y="252.1" width="1" height="1" fill="#4048c8" opacity="0.55"/>
<rect x="265.6" y="232.8" width="1" height="1" fill="#4048c8" opacity="0.55"/>
<rect x="261.2" y="257.3" width="1" height="1" fill="#4048c8" opacity="0.55"/>
<rect x="263.4" y="254.3" width="1" height="1" fill="#4048c8" opacity="0.55"/>
<rect x="259.7" y="233.1" width="1" height="1" fill="#4048c8" opacity="0.55"/>
<rect x="256.8" y="234.2" width="1" height="1" fill="#4048c8" opacity="0.55"/>
<rect x="269.0" y="249.6" width="1" height="1" fill="#4048c8" opacity="0.55"/>
<rect x="263.0" y="235.5" width="1" height="1" fill="#4048c8" opacity="0.55"/>
<rect x="257.2" y="235.8" width="1" height="1" fill="#4048c8" opacity="0.55"/>
<rect x="254.8" y="252.0" width="1" height="1" fill="#4048c8" opacity="0.55"/>
<rect x="270.0" y="232.7" width="1" height="1" fill="#4048c8" opacity="0.55"/>
<rect x="271.1" y="245.6" width="1" height="1" fill="#4048c8" opacity="0.55"/>
<rect x="263.8" y="254.4" width="1" height="1" fill="#4048c8" opacity="0.55"/>
<rect x="250.6" y="243.2" width="1" height="1" fill="#4048c8" opacity="0.55"/>
<rect x="255.6" y="252.5" width="1" height="1" fill="#4048c8" opacity="0.55"/>
<rect x="255.2" y="245.9" width="1" height="1" fill="#4048c8" opacity="0.55"/>
<rect x="254.3" y="240.9" width="1" height="1" fill="#4048c8" opacity="0.55"/>
<rect x="258.9" y="237.3" width="1" height="1" fill="#4048c8" opacity="0.55"/>
<rect x="257.7" y="252.5" width="1" height="1" fill="#4048c8" opacity="0.55"/>
<rect x="266.5" y="232.2" width="1" height="1" fill="#4048c8" opacity="0.55"/>
<rect x="257.8" y="233.2" width="1" height="1" fill="#4048c8" opacity="0.55"/>
<rect x="255.7" y="247.2" width="1" height="1" fill="#4048c8" opacity="0.55"/>
<rect x="262.8" y="232.6" width="1" height="1" fill="#4048c8" opacity="0.55"/>
<rect x="254.8" y="246.0" width="1" height="1" fill="#4048c8" opacity="0.55"/>
<rect x="267.6" y="235.3" width="1" height="1" fill="#4048c8" opacity="0.55"/>
<rect x="259.0" y="256.3" width="1" height="1" fill="#4048c8" opacity="0.55"/>
<rect x="259.4" y="231.0" width="1" height="1" fill="#4048c8" opacity="0.55"/>
<rect x="265.6" y="252.2" width="1" height="1" fill="#4048c8" opacity="0.55"/>
<rect x="261.9" y="253.8" width="1" height="1" fill="#4048c8" opacity="0.55"/>
<rect x="266.8" y="255.9" width="1" height="1" fill="#4048c8" opacity="0.55"/>
<rect x="257.4" y="256.2" width="1" height="1" fill="#4048c8" opacity="0.55"/>
<rect x="260.2" y="224.8" width="1" height="1" fill="#4048c8" opacity="0.55"/>
<rect x="268.5" y="251.2" width="1" height="1" fill="#4048c8" opacity="0.55"/>
<rect x="256.3" y="251.1" width="1" height="1" fill="#4048c8" opacity="0.55"/>
<rect x="270.1" y="242.0" width="1" height="1" fill="#4048c8" opacity="0.55"/>
<rect x="257.2" y="246.4" width="1" height="1" fill="#4048c8" opacity="0.55"/>
<rect x="263.9" y="252.8" width="0.9" height="0.9" fill="#fff" opacity="0.45"/>
<rect x="265.6" y="248.1" width="0.9" height="0.9" fill="#fff" opacity="0.45"/>
<rect x="258.5" y="247.7" width="0.9" height="0.9" fill="#fff" opacity="0.45"/>
<rect x="256.3" y="249.7" width="0.9" height="0.9" fill="#fff" opacity="0.45"/>
<rect x="259.8" y="234.6" width="0.9" height="0.9" fill="#fff" opacity="0.45"/>
<rect x="257.9" y="236.6" width="0.9" height="0.9" fill="#fff" opacity="0.45"/>
<rect x="265.7" y="251.0" width="0.9" height="0.9" fill="#fff" opacity="0.45"/>
<rect x="256.3" y="249.3" width="0.9" height="0.9" fill="#fff" opacity="0.45"/>
<rect x="266.5" y="238.4" width="0.9" height="0.9" fill="#fff" opacity="0.45"/>
<rect x="255.8" y="238.5" width="0.9" height="0.9" fill="#fff" opacity="0.45"/>
<rect x="257.4" y="247.0" width="0.9" height="0.9" fill="#fff" opacity="0.45"/>
<rect x="260.6" y="232.1" width="0.9" height="0.9" fill="#fff" opacity="0.45"/>
<rect x="262.8" y="233.0" width="0.9" height="0.9" fill="#fff" opacity="0.45"/>
<rect x="265.7" y="235.1" width="0.9" height="0.9" fill="#fff" opacity="0.45"/>
<rect x="258.2" y="236.3" width="0.9" height="0.9" fill="#fff" opacity="0.45"/>
<rect x="259.4" y="252.5" width="0.9" height="0.9" fill="#fff" opacity="0.45"/>
<rect x="266.4" y="248.4" width="0.9" height="0.9" fill="#fff" opacity="0.45"/>
<rect x="263.1" y="233.1" width="0.9" height="0.9" fill="#fff" opacity="0.45"/>
<rect x="258.3" y="237.5" width="0.9" height="0.9" fill="#fff" opacity="0.45"/>
<rect x="256.7" y="247.5" width="0.9" height="0.9" fill="#fff" opacity="0.45"/>
<rect x="257.8" y="237.2" width="0.9" height="0.9" fill="#fff" opacity="0.45"/>
<rect x="258.5" y="232.9" width="0.9" height="0.9" fill="#fff" opacity="0.45"/>
<rect x="264.4" y="252.6" width="0.9" height="0.9" fill="#fff" opacity="0.45"/>
<rect x="262.8" y="234.7" width="0.9" height="0.9" fill="#fff" opacity="0.45"/>
<rect x="254.3" y="244.1" width="0.9" height="0.9" fill="#fff" opacity="0.45"/>
<rect x="267.7" y="245.6" width="0.9" height="0.9" fill="#fff" opacity="0.45"/>
<rect x="265.4" y="252.5" width="0.9" height="0.9" fill="#fff" opacity="0.45"/>
<rect x="267.3" y="239.9" width="0.9" height="0.9" fill="#fff" opacity="0.45"/>
<rect x="266.7" y="249.1" width="0.9" height="0.9" fill="#fff" opacity="0.45"/>
<rect x="255.4" y="240.6" width="0.9" height="0.9" fill="#fff" opacity="0.45"/>
<rect x="255.5" y="242.5" width="0.9" height="0.9" fill="#fff" opacity="0.45"/>
<rect x="264.6" y="235.0" width="0.9" height="0.9" fill="#fff" opacity="0.45"/>
<rect x="255.5" y="249.6" width="0.9" height="0.9" fill="#fff" opacity="0.45"/>
<rect x="263.4" y="253.3" width="0.9" height="0.9" fill="#fff" opacity="0.45"/>
<rect x="256.5" y="250.0" width="0.9" height="0.9" fill="#fff" opacity="0.45"/>
<rect x="267.2" y="251.6" width="0.9" height="0.9" fill="#fff" opacity="0.45"/>
<rect x="259.1" y="248.7" width="0.9" height="0.9" fill="#fff" opacity="0.45"/>
<rect x="261.0" y="252.0" width="0.9" height="0.9" fill="#fff" opacity="0.45"/>
<rect x="267.4" y="244.0" width="0.9" height="0.9" fill="#fff" opacity="0.45"/>
<rect x="256.0" y="248.3" width="0.9" height="0.9" fill="#fff" opacity="0.45"/>
<rect x="258.8" y="249.7" width="0.9" height="0.9" fill="#fff" opacity="0.45"/>
<rect x="262.9" y="253.8" width="0.9" height="0.9" fill="#fff" opacity="0.45"/>
<rect x="267.4" y="239.8" width="0.9" height="0.9" fill="#fff" opacity="0.45"/>
<rect x="263.1" y="254.0" width="0.9" height="0.9" fill="#fff" opacity="0.45"/>
<rect x="258.0" y="248.2" width="0.9" height="0.9" fill="#fff" opacity="0.45"/>
<rect x="266.5" y="251.1" width="0.9" height="0.9" fill="#fff" opacity="0.45"/>
<rect x="264.1" y="234.0" width="0.9" height="0.9" fill="#fff" opacity="0.45"/>
<rect x="255.8" y="245.2" width="0.9" height="0.9" fill="#fff" opacity="0.45"/>
<rect x="262.9" y="255.0" width="0.9" height="0.9" fill="#fff" opacity="0.45"/>
<rect x="258.0" y="251.3" width="0.9" height="0.9" fill="#fff" opacity="0.45"/>
<rect x="264.7" y="233.3" width="0.9" height="0.9" fill="#fff" opacity="0.45"/>
<rect x="256.7" y="244.9" width="0.9" height="0.9" fill="#fff" opacity="0.45"/>
<rect x="257.4" y="241.1" width="0.9" height="0.9" fill="#fff" opacity="0.45"/>
<rect x="264.5" y="235.9" width="0.9" height="0.9" fill="#fff" opacity="0.45"/>
<rect x="264.8" y="236.8" width="0.9" height="0.9" fill="#fff" opacity="0.45"/>
<rect x="258.2" y="248.9" width="0.9" height="0.9" fill="#fff" opacity="0.45"/>
<rect x="257.5" y="246.7" width="0.9" height="0.9" fill="#fff" opacity="0.45"/>
<rect x="268.4" y="243.5" width="0.9" height="0.9" fill="#fff" opacity="0.45"/>
<rect x="260.8" y="251.1" width="0.9" height="0.9" fill="#fff" opacity="0.45"/>
<rect x="259.9" y="252.0" width="0.9" height="0.9" fill="#fff" opacity="0.45"/>
<rect x="256.1" y="247.7" width="0.9" height="0.9" fill="#fff" opacity="0.45"/>
<rect x="258.9" y="236.1" width="0.9" height="0.9" fill="#fff" opacity="0.45"/>
<rect x="268.2" y="238.4" width="0.9" height="0.9" fill="#fff" opacity="0.45"/>
<rect x="268.4" y="247.2" width="0.9" height="0.9" fill="#fff" opacity="0.45"/>
<rect x="267.5" y="237.3" width="0.9" height="0.9" fill="#fff" opacity="0.45"/>
<rect x="266.3" y="251.9" width="0.9" height="0.9" fill="#fff" opacity="0.45"/>
<rect x="259.0" y="238.3" width="0.9" height="0.9" fill="#fff" opacity="0.45"/>
<rect x="269.2" y="244.1" width="0.9" height="0.9" fill="#fff" opacity="0.45"/>
<rect x="259.0" y="236.7" width="0.9" height="0.9" fill="#fff" opacity="0.45"/>
<rect x="265.6" y="247.7" width="0.9" height="0.9" fill="#fff" opacity="0.45"/>
<rect x="262.5" y="254.0" width="0.9" height="0.9" fill="#fff" opacity="0.45"/>
<rect x="259.1" y="249.4" width="0.9" height="0.9" fill="#fff" opacity="0.45"/>
<rect x="267.5" y="237.1" width="0.9" height="0.9" fill="#fff" opacity="0.45"/>
<rect x="265.4" y="253.2" width="0.9" height="0.9" fill="#fff" opacity="0.45"/>
<rect x="256.5" y="236.5" width="0.9" height="0.9" fill="#fff" opacity="0.45"/>
<rect x="258.3" y="233.3" width="0.9" height="0.9" fill="#fff" opacity="0.45"/>
<rect x="263.5" y="232.5" width="0.9" height="0.9" fill="#fff" opacity="0.45"/>
<rect x="263.9" y="253.1" width="0.9" height="0.9" fill="#fff" opacity="0.45"/>
<rect x="255.2" y="241.3" width="0.9" height="0.9" fill="#fff" opacity="0.45"/>
<rect x="255.1" y="247.6" width="0.9" height="0.9" fill="#fff" opacity="0.45"/>
<rect x="257.0" y="240.6" width="0.9" height="0.9" fill="#fff" opacity="0.45"/>
<rect x="262.3" y="250.6" width="0.9" height="0.9" fill="#fff" opacity="0.45"/>
<rect x="257.4" y="243.6" width="0.9" height="0.9" fill="#fff" opacity="0.45"/>
<rect x="257.2" y="244.8" width="0.9" height="0.9" fill="#fff" opacity="0.45"/>
<rect x="255.9" y="243.8" width="0.9" height="0.9" fill="#fff" opacity="0.45"/>
<rect x="254.9" y="240.5" width="0.9" height="0.9" fill="#fff" opacity="0.45"/>
<rect x="268.8" y="243.8" width="0.9" height="0.9" fill="#fff" opacity="0.45"/>
<rect x="255.8" y="245.2" width="0.9" height="0.9" fill="#fff" opacity="0.45"/>
<rect x="258.2" y="233.7" width="0.9" height="0.9" fill="#fff" opacity="0.45"/>
<rect x="257.8" y="249.6" width="0.9" height="0.9" fill="#fff" opacity="0.45"/>
<rect x="246.2" y="177" width="1" height="1" fill="#4a5ad0"/>
<rect x="247.7" y="256.3" width="1" height="1" fill="#4a5ad0"/>
<rect x="319" y="177" width="1" height="1" fill="#4a5ad0"/>
<rect x="322" y="177.4" width="1" height="1" fill="#4a5ad0"/>
<rect x="326" y="177.2" width="1" height="1" fill="#4a5ad0"/>
<rect x="349.1" y="257.9" width="0.9" height="0.9" fill="#7080d0" opacity="0.5"/>
<rect x="341.6" y="257.5" width="0.9" height="0.9" fill="#7080d0" opacity="0.5"/>
<rect x="327.7" y="256.2" width="0.9" height="0.9" fill="#7080d0" opacity="0.5"/>
<rect x="348.4" y="256.3" width="0.9" height="0.9" fill="#7080d0" opacity="0.5"/>
<rect x="334.6" y="257.8" width="0.9" height="0.9" fill="#7080d0" opacity="0.5"/>
<rect x="338.1" y="256.9" width="0.9" height="0.9" fill="#7080d0" opacity="0.5"/>
<rect x="347.6" y="258.1" width="0.9" height="0.9" fill="#7080d0" opacity="0.5"/>
<rect x="341.4" y="257.2" width="0.9" height="0.9" fill="#7080d0" opacity="0.5"/>
<rect x="334.8" y="257.4" width="0.9" height="0.9" fill="#7080d0" opacity="0.5"/>
<rect x="337.9" y="256.5" width="0.9" height="0.9" fill="#7080d0" opacity="0.5"/>
<rect x="339.1" y="257.1" width="0.9" height="0.9" fill="#7080d0" opacity="0.5"/>
<rect x="337.0" y="256.5" width="0.9" height="0.9" fill="#7080d0" opacity="0.5"/>
<rect x="336.7" y="255.8" width="0.9" height="0.9" fill="#7080d0" opacity="0.5"/>
<rect x="333.7" y="256.6" width="0.9" height="0.9" fill="#7080d0" opacity="0.5"/>
<rect x="346.0" y="256.3" width="0.9" height="0.9" fill="#7080d0" opacity="0.5"/>
<rect x="333.2" y="257.5" width="0.9" height="0.9" fill="#7080d0" opacity="0.5"/>
<rect x="338.6" y="258.0" width="0.9" height="0.9" fill="#7080d0" opacity="0.5"/>
<rect x="345.2" y="256.8" width="0.9" height="0.9" fill="#7080d0" opacity="0.5"/>
<rect x="334.6" y="256.8" width="0.9" height="0.9" fill="#7080d0" opacity="0.5"/>
<rect x="340.5" y="257.5" width="0.9" height="0.9" fill="#7080d0" opacity="0.5"/>
<rect x="341.6" y="257.0" width="0.9" height="0.9" fill="#7080d0" opacity="0.5"/>
<rect x="343.6" y="256.8" width="0.9" height="0.9" fill="#7080d0" opacity="0.5"/>
<rect x="347.4" y="256.8" width="0.9" height="0.9" fill="#7080d0" opacity="0.5"/>
<rect x="333.9" y="256.9" width="0.9" height="0.9" fill="#7080d0" opacity="0.5"/>
<rect x="327.1" y="257.6" width="0.9" height="0.9" fill="#7080d0" opacity="0.5"/>
<rect x="341.0" y="258.5" width="0.9" height="0.9" fill="#7080d0" opacity="0.5"/>
<rect x="342.1" y="257.4" width="0.9" height="0.9" fill="#7080d0" opacity="0.5"/>
<rect x="341.1" y="255.5" width="0.9" height="0.9" fill="#7080d0" opacity="0.5"/>
<rect x="341.2" y="256.2" width="0.9" height="0.9" fill="#7080d0" opacity="0.5"/>
<rect x="340.7" y="256.2" width="0.9" height="0.9" fill="#7080d0" opacity="0.5"/>
<ellipse cx="324" cy="256.3" rx="3.6" ry="2" fill="#6a8ab0" opacity="0.6"/>
<ellipse cx="323.3" cy="256.5" rx="2.4" ry="1.4" fill="#4a8a6a" opacity="0.85"/>
<rect x="323.4" y="255.6" width="0.9" height="0.9" fill="#4a5cc0" opacity="0.6"/>
<rect x="322.8" y="255.2" width="0.9" height="0.9" fill="#4a5cc0" opacity="0.6"/>
<rect x="324.1" y="255.8" width="0.9" height="0.9" fill="#4a5cc0" opacity="0.6"/>
<rect x="324.3" y="256.6" width="0.9" height="0.9" fill="#4a5cc0" opacity="0.6"/>
<rect x="324.7" y="253.9" width="0.9" height="0.9" fill="#4a5cc0" opacity="0.6"/>
<rect x="322.8" y="255.4" width="0.9" height="0.9" fill="#4a5cc0" opacity="0.6"/>
<rect x="325.7" y="254.6" width="0.9" height="0.9" fill="#4a5cc0" opacity="0.6"/>
<rect x="322.4" y="256.0" width="0.9" height="0.9" fill="#4a5cc0" opacity="0.6"/>
<rect x="323.3" y="257.4" width="0.9" height="0.9" fill="#4a5cc0" opacity="0.6"/>
<rect x="323.0" y="257.4" width="0.9" height="0.9" fill="#4a5cc0" opacity="0.6"/>
<rect x="320.8" y="254.3" width="0.9" height="0.9" fill="#4a5cc0" opacity="0.6"/>
<rect x="326.7" y="256.8" width="0.9" height="0.9" fill="#4a5cc0" opacity="0.6"/>
<rect x="325.1" y="256.4" width="0.9" height="0.9" fill="#4a5cc0" opacity="0.6"/>
<rect x="325.1" y="255.0" width="0.9" height="0.9" fill="#4a5cc0" opacity="0.6"/>
<rect x="326.1" y="255.7" width="0.9" height="0.9" fill="#4a5cc0" opacity="0.6"/>
<rect x="326.2" y="256.4" width="0.9" height="0.9" fill="#4a5cc0" opacity="0.6"/>
<rect x="319.7" y="254.9" width="0.9" height="0.9" fill="#4a5cc0" opacity="0.6"/>
<rect x="326.5" y="256.1" width="0.9" height="0.9" fill="#4a5cc0" opacity="0.6"/>
<rect x="323.1" y="256.6" width="0.9" height="0.9" fill="#4a5cc0" opacity="0.6"/>
<rect x="323.1" y="255.7" width="0.9" height="0.9" fill="#4a5cc0" opacity="0.6"/>
<rect x="324.2" y="256.5" width="0.9" height="0.9" fill="#4a5cc0" opacity="0.6"/>
<rect x="327.3" y="256.4" width="0.9" height="0.9" fill="#4a5cc0" opacity="0.6"/>
<rect x="328.1" y="258.3" width="0.9" height="0.9" fill="#4a5cc0" opacity="0.6"/>
<rect x="327.8" y="257.5" width="0.9" height="0.9" fill="#4a5cc0" opacity="0.6"/>
<rect x="324.3" y="256.5" width="0.9" height="0.9" fill="#4a5cc0" opacity="0.6"/>
<ellipse cx="256.4" cy="84.6" rx="13.1" ry="15.9" fill="none" stroke="#555" stroke-width="0.8"/>
<text x="268" y="72.7" font-size="7.7" fill="#111" text-anchor="start" textLength="13.2" lengthAdjust="spacingAndGlyphs" stroke="#111" stroke-width="0.22">CLL</text>
<ellipse cx="329.3" cy="83.9" rx="13" ry="16.3" fill="none" stroke="#555" stroke-width="0.8"/>
<text x="341.4" y="75.5" font-size="7.7" fill="#111" text-anchor="start" textLength="13.2" lengthAdjust="spacingAndGlyphs" stroke="#111" stroke-width="0.22">CLL</text>
<ellipse cx="264" cy="161.5" rx="21.1" ry="16.5" fill="none" stroke="#555" stroke-width="0.8"/>
<text x="277.5" y="147.3" font-size="7.7" fill="#111" text-anchor="start" textLength="13.2" lengthAdjust="spacingAndGlyphs" stroke="#111" stroke-width="0.22">CLL</text>
<ellipse cx="338" cy="161.5" rx="21.6" ry="16.5" fill="none" stroke="#555" stroke-width="0.8"/>
<text x="354.2" y="147.3" font-size="7.7" fill="#111" text-anchor="start" textLength="13.2" lengthAdjust="spacingAndGlyphs" stroke="#111" stroke-width="0.22">CLL</text>
<ellipse cx="265.4" cy="238.4" rx="19.2" ry="16" fill="none" stroke="#555" stroke-width="0.8"/>
<text x="277.8" y="225.5" font-size="7.7" fill="#111" text-anchor="start" textLength="13.2" lengthAdjust="spacingAndGlyphs" stroke="#111" stroke-width="0.22">CLL</text>
<ellipse cx="338.5" cy="239.6" rx="19" ry="15.6" fill="none" stroke="#555" stroke-width="0.8"/>
<text x="352.6" y="225.5" font-size="7.7" fill="#111" text-anchor="start" textLength="13.2" lengthAdjust="spacingAndGlyphs" stroke="#111" stroke-width="0.22">CLL</text>
<text x="388.3" y="15.9" font-size="10.6" fill="#111" text-anchor="start" font-weight="bold" >C</text>
<text x="458.2" y="22.9" font-size="9.8" fill="#151515" text-anchor="start" textLength="28" lengthAdjust="spacingAndGlyphs"  stroke="#151515" stroke-width="0.12">DAY10</text>
<text x="466.1" y="34.0" font-size="7.8" fill="#111" text-anchor="start" textLength="11" lengthAdjust="spacingAndGlyphs"  stroke="#111" stroke-width="0.12">****</text>
<line x1="454.5" y1="35.5" x2="489.1" y2="35.5" stroke="#333" stroke-width="1.2"/>
<line x1="431" y1="31.3" x2="431" y2="142.38" stroke="#111" stroke-width="1.5"/>
<line x1="430.3" y1="141.78" x2="512.4" y2="141.78" stroke="#111" stroke-width="1.5"/>
<line x1="428.0" y1="33.6" x2="431" y2="33.6" stroke="#111" stroke-width="1.5"/>
<text x="425" y="36.300000000000004" font-size="7.6" fill="#151515" text-anchor="end"  stroke="#151515" stroke-width="0.12">100</text>
<line x1="428.4" y1="46.5" x2="431" y2="46.5" stroke="#111" stroke-width="0.95"/>
<line x1="428.4" y1="43.5" x2="431" y2="43.5" stroke="#111" stroke-width="0.95"/>
<line x1="428.4" y1="40.5" x2="431" y2="40.5" stroke="#111" stroke-width="0.95"/>
<line x1="428.4" y1="39.5" x2="431" y2="39.5" stroke="#111" stroke-width="0.95"/>
<line x1="428.4" y1="37.5" x2="431" y2="37.5" stroke="#111" stroke-width="0.95"/>
<line x1="428.4" y1="36.5" x2="431" y2="36.5" stroke="#111" stroke-width="0.95"/>
<line x1="428.4" y1="35.5" x2="431" y2="35.5" stroke="#111" stroke-width="0.95"/>
<line x1="428.4" y1="34.5" x2="431" y2="34.5" stroke="#111" stroke-width="0.95"/>
<line x1="428.0" y1="51.63" x2="431" y2="51.63" stroke="#111" stroke-width="1.5"/>
<text x="425" y="54.330000000000005" font-size="7.6" fill="#151515" text-anchor="end"  stroke="#151515" stroke-width="0.12">10</text>
<line x1="428.4" y1="64.5" x2="431" y2="64.5" stroke="#111" stroke-width="0.95"/>
<line x1="428.4" y1="61.5" x2="431" y2="61.5" stroke="#111" stroke-width="0.95"/>
<line x1="428.4" y1="58.5" x2="431" y2="58.5" stroke="#111" stroke-width="0.95"/>
<line x1="428.4" y1="57.5" x2="431" y2="57.5" stroke="#111" stroke-width="0.95"/>
<line x1="428.4" y1="55.5" x2="431" y2="55.5" stroke="#111" stroke-width="0.95"/>
<line x1="428.4" y1="54.5" x2="431" y2="54.5" stroke="#111" stroke-width="0.95"/>
<line x1="428.4" y1="53.5" x2="431" y2="53.5" stroke="#111" stroke-width="0.95"/>
<line x1="428.4" y1="52.5" x2="431" y2="52.5" stroke="#111" stroke-width="0.95"/>
<line x1="428.0" y1="69.66" x2="431" y2="69.66" stroke="#111" stroke-width="1.5"/>
<text x="425" y="72.36" font-size="7.6" fill="#151515" text-anchor="end"  stroke="#151515" stroke-width="0.12">1</text>
<line x1="428.4" y1="82.5" x2="431" y2="82.5" stroke="#111" stroke-width="0.95"/>
<line x1="428.4" y1="79.5" x2="431" y2="79.5" stroke="#111" stroke-width="0.95"/>
<line x1="428.4" y1="76.5" x2="431" y2="76.5" stroke="#111" stroke-width="0.95"/>
<line x1="428.4" y1="75.5" x2="431" y2="75.5" stroke="#111" stroke-width="0.95"/>
<line x1="428.4" y1="73.5" x2="431" y2="73.5" stroke="#111" stroke-width="0.95"/>
<line x1="428.4" y1="72.5" x2="431" y2="72.5" stroke="#111" stroke-width="0.95"/>
<line x1="428.4" y1="71.5" x2="431" y2="71.5" stroke="#111" stroke-width="0.95"/>
<line x1="428.4" y1="70.5" x2="431" y2="70.5" stroke="#111" stroke-width="0.95"/>
<line x1="428.0" y1="87.69" x2="431" y2="87.69" stroke="#111" stroke-width="1.5"/>
<text x="425" y="90.39" font-size="7.6" fill="#151515" text-anchor="end"  stroke="#151515" stroke-width="0.12">0.1</text>
<line x1="428.4" y1="100.5" x2="431" y2="100.5" stroke="#111" stroke-width="0.95"/>
<line x1="428.4" y1="97.5" x2="431" y2="97.5" stroke="#111" stroke-width="0.95"/>
<line x1="428.4" y1="94.5" x2="431" y2="94.5" stroke="#111" stroke-width="0.95"/>
<line x1="428.4" y1="93.5" x2="431" y2="93.5" stroke="#111" stroke-width="0.95"/>
<line x1="428.4" y1="91.5" x2="431" y2="91.5" stroke="#111" stroke-width="0.95"/>
<line x1="428.4" y1="90.5" x2="431" y2="90.5" stroke="#111" stroke-width="0.95"/>
<line x1="428.4" y1="89.5" x2="431" y2="89.5" stroke="#111" stroke-width="0.95"/>
<line x1="428.4" y1="88.5" x2="431" y2="88.5" stroke="#111" stroke-width="0.95"/>
<line x1="428.0" y1="105.72" x2="431" y2="105.72" stroke="#111" stroke-width="1.5"/>
<text x="425" y="108.42" font-size="7.6" fill="#151515" text-anchor="end"  stroke="#151515" stroke-width="0.12">0.01</text>
<line x1="428.4" y1="118.5" x2="431" y2="118.5" stroke="#111" stroke-width="0.95"/>
<line x1="428.4" y1="115.5" x2="431" y2="115.5" stroke="#111" stroke-width="0.95"/>
<line x1="428.4" y1="112.5" x2="431" y2="112.5" stroke="#111" stroke-width="0.95"/>
<line x1="428.4" y1="111.5" x2="431" y2="111.5" stroke="#111" stroke-width="0.95"/>
<line x1="428.4" y1="109.5" x2="431" y2="109.5" stroke="#111" stroke-width="0.95"/>
<line x1="428.4" y1="108.5" x2="431" y2="108.5" stroke="#111" stroke-width="0.95"/>
<line x1="428.4" y1="107.5" x2="431" y2="107.5" stroke="#111" stroke-width="0.95"/>
<line x1="428.4" y1="106.5" x2="431" y2="106.5" stroke="#111" stroke-width="0.95"/>
<line x1="428.0" y1="123.75" x2="431" y2="123.75" stroke="#111" stroke-width="1.5"/>
<text x="425" y="126.45" font-size="7.6" fill="#151515" text-anchor="end"  stroke="#151515" stroke-width="0.12">0.001</text>
<line x1="428.4" y1="136.5" x2="431" y2="136.5" stroke="#111" stroke-width="0.95"/>
<line x1="428.4" y1="133.5" x2="431" y2="133.5" stroke="#111" stroke-width="0.95"/>
<line x1="428.4" y1="130.5" x2="431" y2="130.5" stroke="#111" stroke-width="0.95"/>
<line x1="428.4" y1="129.5" x2="431" y2="129.5" stroke="#111" stroke-width="0.95"/>
<line x1="428.4" y1="127.5" x2="431" y2="127.5" stroke="#111" stroke-width="0.95"/>
<line x1="428.4" y1="126.5" x2="431" y2="126.5" stroke="#111" stroke-width="0.95"/>
<line x1="428.4" y1="125.5" x2="431" y2="125.5" stroke="#111" stroke-width="0.95"/>
<line x1="428.4" y1="124.5" x2="431" y2="124.5" stroke="#111" stroke-width="0.95"/>
<line x1="428.0" y1="141.78" x2="431" y2="141.78" stroke="#111" stroke-width="1.5"/>
<text x="425" y="144.48" font-size="7.6" fill="#151515" text-anchor="end"  stroke="#151515" stroke-width="0.12">0.0001</text>
<line x1="454.5" y1="141.78" x2="454.5" y2="144.78" stroke="#111" stroke-width="1.2"/>
<line x1="489.5" y1="141.78" x2="489.5" y2="144.78" stroke="#111" stroke-width="1.2"/>
<text x="447.5" y="154.8" font-size="7.6" fill="#151515" text-anchor="start" textLength="13.8" lengthAdjust="spacingAndGlyphs"  stroke="#151515" stroke-width="0.12">B12</text>
<text x="477.8" y="154.8" font-size="7.6" fill="#151515" text-anchor="start" textLength="22.5" lengthAdjust="spacingAndGlyphs"  stroke="#151515" stroke-width="0.12">EPCO</text>
<text x="395.2" y="86.3" font-size="7.9" fill="#151515" text-anchor="middle" textLength="69" lengthAdjust="spacingAndGlyphs" transform="rotate(-90 395.2 86.3)" stroke="#151515" stroke-width="0.25">CLL cells per micL blood</text>
<line x1="454.5" y1="52.5" x2="454.5" y2="74" stroke="#151515" stroke-width="1"/>
<rect x="452.00" y="44.00" width="4.6" height="4.6" fill="none" stroke="#fff" stroke-width="0.9" opacity="0.6"/>
<rect x="452.00" y="44.00" width="4.6" height="4.6" fill="#a30e35" stroke="#4e0314" stroke-width="0.6"/>
<rect x="452.00" y="46.90" width="4.6" height="4.6" fill="none" stroke="#fff" stroke-width="0.9" opacity="0.6"/>
<rect x="452.00" y="46.90" width="4.6" height="4.6" fill="#a30e35" stroke="#4e0314" stroke-width="0.6"/>
<rect x="449.50" y="51.90" width="4.6" height="4.6" fill="none" stroke="#fff" stroke-width="0.9" opacity="0.6"/>
<rect x="449.50" y="51.90" width="4.6" height="4.6" fill="#a30e35" stroke="#4e0314" stroke-width="0.6"/>
<rect x="454.50" y="51.90" width="4.6" height="4.6" fill="none" stroke="#fff" stroke-width="0.9" opacity="0.6"/>
<rect x="454.50" y="51.90" width="4.6" height="4.6" fill="#a30e35" stroke="#4e0314" stroke-width="0.6"/>
<rect x="443.00" y="61.20" width="4.6" height="4.6" fill="none" stroke="#fff" stroke-width="0.9" opacity="0.6"/>
<rect x="443.00" y="61.20" width="4.6" height="4.6" fill="#a30e35" stroke="#4e0314" stroke-width="0.6"/>
<rect x="447.20" y="60.30" width="4.6" height="4.6" fill="none" stroke="#fff" stroke-width="0.9" opacity="0.6"/>
<rect x="447.20" y="60.30" width="4.6" height="4.6" fill="#a30e35" stroke="#4e0314" stroke-width="0.6"/>
<rect x="451.50" y="62.00" width="4.6" height="4.6" fill="none" stroke="#fff" stroke-width="0.9" opacity="0.6"/>
<rect x="451.50" y="62.00" width="4.6" height="4.6" fill="#a30e35" stroke="#4e0314" stroke-width="0.6"/>
<rect x="456.00" y="60.70" width="4.6" height="4.6" fill="none" stroke="#fff" stroke-width="0.9" opacity="0.6"/>
<rect x="456.00" y="60.70" width="4.6" height="4.6" fill="#a30e35" stroke="#4e0314" stroke-width="0.6"/>
<rect x="460.50" y="61.50" width="4.6" height="4.6" fill="none" stroke="#fff" stroke-width="0.9" opacity="0.6"/>
<rect x="460.50" y="61.50" width="4.6" height="4.6" fill="#a30e35" stroke="#4e0314" stroke-width="0.6"/>
<rect x="452.20" y="66.30" width="4.6" height="4.6" fill="none" stroke="#fff" stroke-width="0.9" opacity="0.6"/>
<rect x="452.20" y="66.30" width="4.6" height="4.6" fill="#a30e35" stroke="#4e0314" stroke-width="0.6"/>
<rect x="452.20" y="68.70" width="4.6" height="4.6" fill="none" stroke="#fff" stroke-width="0.9" opacity="0.6"/>
<rect x="452.20" y="68.70" width="4.6" height="4.6" fill="#a30e35" stroke="#4e0314" stroke-width="0.6"/>
<rect x="452.20" y="73.70" width="4.6" height="4.6" fill="none" stroke="#fff" stroke-width="0.9" opacity="0.6"/>
<rect x="452.20" y="73.70" width="4.6" height="4.6" fill="#a30e35" stroke="#4e0314" stroke-width="0.6"/>
<path d="M454.30 39.75L456.70 44.25L451.90 44.25Z" fill="none" stroke="#fff" stroke-width="0.9" opacity="0.6"/>
<path d="M454.30 39.75L456.70 44.25L451.90 44.25Z" fill="#8c0c30" stroke="#3e0210" stroke-width="0.6"/>
<path d="M457.30 57.15L459.70 61.65L454.90 61.65Z" fill="none" stroke="#fff" stroke-width="0.9" opacity="0.6"/>
<path d="M457.30 57.15L459.70 61.65L454.90 61.65Z" fill="#8c0c30" stroke="#3e0210" stroke-width="0.6"/>
<line x1="448.8" y1="52.5" x2="459.8" y2="52.5" stroke="#151515" stroke-width="1"/>
<line x1="454.5" y1="55" x2="454.5" y2="60.5" stroke="#151515" stroke-width="1"/>
<rect x="487.00" y="63.10" width="4.6" height="4.6" fill="none" stroke="#fff" stroke-width="0.9" opacity="0.6"/>
<rect x="487.00" y="63.10" width="4.6" height="4.6" fill="#1d4673" stroke="#0c2440" stroke-width="0.6"/>
<rect x="477.90" y="72.90" width="4.6" height="4.6" fill="none" stroke="#fff" stroke-width="0.9" opacity="0.6"/>
<rect x="477.90" y="72.90" width="4.6" height="4.6" fill="#1d4673" stroke="#0c2440" stroke-width="0.6"/>
<rect x="487.00" y="74.20" width="4.6" height="4.6" fill="none" stroke="#fff" stroke-width="0.9" opacity="0.6"/>
<rect x="487.00" y="74.20" width="4.6" height="4.6" fill="#1d4673" stroke="#0c2440" stroke-width="0.6"/>
<rect x="487.00" y="79.10" width="4.6" height="4.6" fill="none" stroke="#fff" stroke-width="0.9" opacity="0.6"/>
<rect x="487.00" y="79.10" width="4.6" height="4.6" fill="#1d4673" stroke="#0c2440" stroke-width="0.6"/>
<rect x="477.50" y="82.20" width="4.6" height="4.6" fill="none" stroke="#fff" stroke-width="0.9" opacity="0.6"/>
<rect x="477.50" y="82.20" width="4.6" height="4.6" fill="#1d4673" stroke="#0c2440" stroke-width="0.6"/>
<rect x="477.50" y="86.70" width="4.6" height="4.6" fill="none" stroke="#fff" stroke-width="0.9" opacity="0.6"/>
<rect x="477.50" y="86.70" width="4.6" height="4.6" fill="#1d4673" stroke="#0c2440" stroke-width="0.6"/>
<rect x="477.50" y="91.20" width="4.6" height="4.6" fill="none" stroke="#fff" stroke-width="0.9" opacity="0.6"/>
<rect x="477.50" y="91.20" width="4.6" height="4.6" fill="#1d4673" stroke="#0c2440" stroke-width="0.6"/>
<rect x="496.10" y="83.00" width="4.6" height="4.6" fill="none" stroke="#fff" stroke-width="0.9" opacity="0.6"/>
<rect x="496.10" y="83.00" width="4.6" height="4.6" fill="#1d4673" stroke="#0c2440" stroke-width="0.6"/>
<rect x="496.10" y="88.50" width="4.6" height="4.6" fill="none" stroke="#fff" stroke-width="0.9" opacity="0.6"/>
<rect x="496.10" y="88.50" width="4.6" height="4.6" fill="#1d4673" stroke="#0c2440" stroke-width="0.6"/>
<path d="M498.50 73.25L500.90 77.75L496.10 77.75Z" fill="none" stroke="#fff" stroke-width="0.9" opacity="0.6"/>
<path d="M498.50 73.25L500.90 77.75L496.10 77.75Z" fill="#17263e" stroke="#0d1a2e" stroke-width="0.6"/>
<path d="M489.30 94.45L491.70 98.95L486.90 98.95Z" fill="none" stroke="#fff" stroke-width="0.9" opacity="0.6"/>
<path d="M489.30 94.45L491.70 98.95L486.90 98.95Z" fill="#17263e" stroke="#0d1a2e" stroke-width="0.6"/>
<path d="M480.30 98.25L482.70 102.75L477.90 102.75Z" fill="none" stroke="#fff" stroke-width="0.9" opacity="0.6"/>
<path d="M480.30 98.25L482.70 102.75L477.90 102.75Z" fill="#17263e" stroke="#0d1a2e" stroke-width="0.6"/>
<path d="M498.70 98.55L501.10 103.05L496.30 103.05Z" fill="none" stroke="#fff" stroke-width="0.9" opacity="0.6"/>
<path d="M498.70 98.55L501.10 103.05L496.30 103.05Z" fill="#17263e" stroke="#0d1a2e" stroke-width="0.6"/>
<path d="M493.60 103.55L496.00 108.05L491.20 108.05Z" fill="none" stroke="#fff" stroke-width="0.9" opacity="0.6"/>
<path d="M493.60 103.55L496.00 108.05L491.20 108.05Z" fill="#17263e" stroke="#0d1a2e" stroke-width="0.6"/>
<path d="M484.60 105.95L487.00 110.45L482.20 110.45Z" fill="none" stroke="#fff" stroke-width="0.9" opacity="0.6"/>
<path d="M484.60 105.95L487.00 110.45L482.20 110.45Z" fill="#17263e" stroke="#0d1a2e" stroke-width="0.6"/>
<line x1="489.5" y1="79" x2="489.5" y2="100.3" stroke="#151515" stroke-width="1"/>
<line x1="483.4" y1="78.5" x2="494.9" y2="78.5" stroke="#151515" stroke-width="1"/>
<line x1="482.2" y1="91.5" x2="497" y2="91.5" stroke="#151515" stroke-width="1"/>
<line x1="483.6" y1="100.5" x2="494.6" y2="100.5" stroke="#151515" stroke-width="1"/>
<text x="458.4" y="173.7" font-size="9.8" fill="#151515" text-anchor="start" textLength="27" lengthAdjust="spacingAndGlyphs"  stroke="#151515" stroke-width="0.12">DAY17</text>
<text x="468.8" y="186.4" font-size="7.8" fill="#111" text-anchor="start" textLength="5.9" lengthAdjust="spacingAndGlyphs"  stroke="#111" stroke-width="0.12">**</text>
<line x1="454.6" y1="187.5" x2="489.7" y2="187.5" stroke="#333" stroke-width="1.2"/>
<line x1="431.2" y1="182" x2="431.2" y2="292.8" stroke="#111" stroke-width="1.5"/>
<line x1="430.5" y1="292.2" x2="512.4" y2="292.2" stroke="#111" stroke-width="1.5"/>
<line x1="428.2" y1="184.2" x2="431.2" y2="184.2" stroke="#111" stroke-width="1.5"/>
<text x="425" y="186.89999999999998" font-size="7.6" fill="#151515" text-anchor="end"  stroke="#151515" stroke-width="0.12">100</text>
<line x1="428.59999999999997" y1="196.5" x2="431.2" y2="196.5" stroke="#111" stroke-width="0.95"/>
<line x1="428.59999999999997" y1="193.5" x2="431.2" y2="193.5" stroke="#111" stroke-width="0.95"/>
<line x1="428.59999999999997" y1="191.5" x2="431.2" y2="191.5" stroke="#111" stroke-width="0.95"/>
<line x1="428.59999999999997" y1="189.5" x2="431.2" y2="189.5" stroke="#111" stroke-width="0.95"/>
<line x1="428.59999999999997" y1="188.5" x2="431.2" y2="188.5" stroke="#111" stroke-width="0.95"/>
<line x1="428.59999999999997" y1="186.5" x2="431.2" y2="186.5" stroke="#111" stroke-width="0.95"/>
<line x1="428.59999999999997" y1="185.5" x2="431.2" y2="185.5" stroke="#111" stroke-width="0.95"/>
<line x1="428.59999999999997" y1="185.5" x2="431.2" y2="185.5" stroke="#111" stroke-width="0.95"/>
<line x1="428.2" y1="202.2" x2="431.2" y2="202.2" stroke="#111" stroke-width="1.5"/>
<text x="425" y="204.89999999999998" font-size="7.6" fill="#151515" text-anchor="end"  stroke="#151515" stroke-width="0.12">10</text>
<line x1="428.59999999999997" y1="214.5" x2="431.2" y2="214.5" stroke="#111" stroke-width="0.95"/>
<line x1="428.59999999999997" y1="211.5" x2="431.2" y2="211.5" stroke="#111" stroke-width="0.95"/>
<line x1="428.59999999999997" y1="209.5" x2="431.2" y2="209.5" stroke="#111" stroke-width="0.95"/>
<line x1="428.59999999999997" y1="207.5" x2="431.2" y2="207.5" stroke="#111" stroke-width="0.95"/>
<line x1="428.59999999999997" y1="206.5" x2="431.2" y2="206.5" stroke="#111" stroke-width="0.95"/>
<line x1="428.59999999999997" y1="204.5" x2="431.2" y2="204.5" stroke="#111" stroke-width="0.95"/>
<line x1="428.59999999999997" y1="203.5" x2="431.2" y2="203.5" stroke="#111" stroke-width="0.95"/>
<line x1="428.59999999999997" y1="203.5" x2="431.2" y2="203.5" stroke="#111" stroke-width="0.95"/>
<line x1="428.2" y1="220.2" x2="431.2" y2="220.2" stroke="#111" stroke-width="1.5"/>
<text x="425" y="222.89999999999998" font-size="7.6" fill="#151515" text-anchor="end"  stroke="#151515" stroke-width="0.12">1</text>
<line x1="428.59999999999997" y1="232.5" x2="431.2" y2="232.5" stroke="#111" stroke-width="0.95"/>
<line x1="428.59999999999997" y1="229.5" x2="431.2" y2="229.5" stroke="#111" stroke-width="0.95"/>
<line x1="428.59999999999997" y1="227.5" x2="431.2" y2="227.5" stroke="#111" stroke-width="0.95"/>
<line x1="428.59999999999997" y1="225.5" x2="431.2" y2="225.5" stroke="#111" stroke-width="0.95"/>
<line x1="428.59999999999997" y1="224.5" x2="431.2" y2="224.5" stroke="#111" stroke-width="0.95"/>
<line x1="428.59999999999997" y1="222.5" x2="431.2" y2="222.5" stroke="#111" stroke-width="0.95"/>
<line x1="428.59999999999997" y1="221.5" x2="431.2" y2="221.5" stroke="#111" stroke-width="0.95"/>
<line x1="428.59999999999997" y1="221.5" x2="431.2" y2="221.5" stroke="#111" stroke-width="0.95"/>
<line x1="428.2" y1="238.2" x2="431.2" y2="238.2" stroke="#111" stroke-width="1.5"/>
<text x="425" y="240.89999999999998" font-size="7.6" fill="#151515" text-anchor="end"  stroke="#151515" stroke-width="0.12">0.1</text>
<line x1="428.59999999999997" y1="250.5" x2="431.2" y2="250.5" stroke="#111" stroke-width="0.95"/>
<line x1="428.59999999999997" y1="247.5" x2="431.2" y2="247.5" stroke="#111" stroke-width="0.95"/>
<line x1="428.59999999999997" y1="245.5" x2="431.2" y2="245.5" stroke="#111" stroke-width="0.95"/>
<line x1="428.59999999999997" y1="243.5" x2="431.2" y2="243.5" stroke="#111" stroke-width="0.95"/>
<line x1="428.59999999999997" y1="242.5" x2="431.2" y2="242.5" stroke="#111" stroke-width="0.95"/>
<line x1="428.59999999999997" y1="240.5" x2="431.2" y2="240.5" stroke="#111" stroke-width="0.95"/>
<line x1="428.59999999999997" y1="239.5" x2="431.2" y2="239.5" stroke="#111" stroke-width="0.95"/>
<line x1="428.59999999999997" y1="239.5" x2="431.2" y2="239.5" stroke="#111" stroke-width="0.95"/>
<line x1="428.2" y1="256.2" x2="431.2" y2="256.2" stroke="#111" stroke-width="1.5"/>
<text x="425" y="258.9" font-size="7.6" fill="#151515" text-anchor="end"  stroke="#151515" stroke-width="0.12">0.01</text>
<line x1="428.59999999999997" y1="268.5" x2="431.2" y2="268.5" stroke="#111" stroke-width="0.95"/>
<line x1="428.59999999999997" y1="265.5" x2="431.2" y2="265.5" stroke="#111" stroke-width="0.95"/>
<line x1="428.59999999999997" y1="263.5" x2="431.2" y2="263.5" stroke="#111" stroke-width="0.95"/>
<line x1="428.59999999999997" y1="261.5" x2="431.2" y2="261.5" stroke="#111" stroke-width="0.95"/>
<line x1="428.59999999999997" y1="260.5" x2="431.2" y2="260.5" stroke="#111" stroke-width="0.95"/>
<line x1="428.59999999999997" y1="258.5" x2="431.2" y2="258.5" stroke="#111" stroke-width="0.95"/>
<line x1="428.59999999999997" y1="257.5" x2="431.2" y2="257.5" stroke="#111" stroke-width="0.95"/>
<line x1="428.59999999999997" y1="257.5" x2="431.2" y2="257.5" stroke="#111" stroke-width="0.95"/>
<line x1="428.2" y1="274.2" x2="431.2" y2="274.2" stroke="#111" stroke-width="1.5"/>
<text x="425" y="276.9" font-size="7.6" fill="#151515" text-anchor="end"  stroke="#151515" stroke-width="0.12">0.001</text>
<line x1="428.59999999999997" y1="286.5" x2="431.2" y2="286.5" stroke="#111" stroke-width="0.95"/>
<line x1="428.59999999999997" y1="283.5" x2="431.2" y2="283.5" stroke="#111" stroke-width="0.95"/>
<line x1="428.59999999999997" y1="281.5" x2="431.2" y2="281.5" stroke="#111" stroke-width="0.95"/>
<line x1="428.59999999999997" y1="279.5" x2="431.2" y2="279.5" stroke="#111" stroke-width="0.95"/>
<line x1="428.59999999999997" y1="278.5" x2="431.2" y2="278.5" stroke="#111" stroke-width="0.95"/>
<line x1="428.59999999999997" y1="276.5" x2="431.2" y2="276.5" stroke="#111" stroke-width="0.95"/>
<line x1="428.59999999999997" y1="275.5" x2="431.2" y2="275.5" stroke="#111" stroke-width="0.95"/>
<line x1="428.59999999999997" y1="275.5" x2="431.2" y2="275.5" stroke="#111" stroke-width="0.95"/>
<line x1="428.2" y1="292.2" x2="431.2" y2="292.2" stroke="#111" stroke-width="1.5"/>
<text x="425" y="294.9" font-size="7.6" fill="#151515" text-anchor="end"  stroke="#151515" stroke-width="0.12">0.0001</text>
<line x1="454.5" y1="292.2" x2="454.5" y2="295.2" stroke="#111" stroke-width="1.2"/>
<line x1="490.5" y1="292.2" x2="490.5" y2="295.2" stroke="#111" stroke-width="1.2"/>
<text x="448" y="305.6" font-size="7.6" fill="#151515" text-anchor="start" textLength="13.5" lengthAdjust="spacingAndGlyphs"  stroke="#151515" stroke-width="0.12">B12</text>
<text x="478.7" y="305.6" font-size="7.6" fill="#151515" text-anchor="start" textLength="22.9" lengthAdjust="spacingAndGlyphs"  stroke="#151515" stroke-width="0.12">EPCO</text>
<text x="395.2" y="237.2" font-size="7.9" fill="#151515" text-anchor="middle" textLength="69" lengthAdjust="spacingAndGlyphs" transform="rotate(-90 395.2 237.2)" stroke="#151515" stroke-width="0.25">CLL cells per micL blood</text>
<path d="M494.20 269.00L496.30 272.80L492.10 272.80Z" fill="none" stroke="#fff" stroke-width="0.9" opacity="0.6"/>
<path d="M494.20 269.00L496.30 272.80L492.10 272.80Z" fill="#111" stroke="#111" stroke-width="0.6"/>
<text x="499" y="272.7" font-size="7.2" fill="#1c1c1c" text-anchor="start" textLength="8.8" lengthAdjust="spacingAndGlyphs"  stroke="#1c1c1c" stroke-width="0.12">TN</text>
<rect x="492.10" y="279.50" width="3.8" height="3.8" fill="none" stroke="#fff" stroke-width="0.9" opacity="0.6"/>
<rect x="492.10" y="279.50" width="3.8" height="3.8" fill="#111" stroke="#111" stroke-width="0.6"/>
<text x="499" y="283.5" font-size="7.2" fill="#1c1c1c" text-anchor="start" textLength="14" lengthAdjust="spacingAndGlyphs"  stroke="#1c1c1c" stroke-width="0.12">RES</text>
<rect x="443.00" y="212.50" width="4.6" height="4.6" fill="none" stroke="#fff" stroke-width="0.9" opacity="0.6"/>
<rect x="443.00" y="212.50" width="4.6" height="4.6" fill="#a30e35" stroke="#4e0314" stroke-width="0.6"/>
<rect x="443.00" y="216.20" width="4.6" height="4.6" fill="none" stroke="#fff" stroke-width="0.9" opacity="0.6"/>
<rect x="443.00" y="216.20" width="4.6" height="4.6" fill="#a30e35" stroke="#4e0314" stroke-width="0.6"/>
<rect x="443.00" y="218.70" width="4.6" height="4.6" fill="none" stroke="#fff" stroke-width="0.9" opacity="0.6"/>
<rect x="443.00" y="218.70" width="4.6" height="4.6" fill="#a30e35" stroke="#4e0314" stroke-width="0.6"/>
<rect x="452.00" y="214.00" width="4.6" height="4.6" fill="none" stroke="#fff" stroke-width="0.9" opacity="0.6"/>
<rect x="452.00" y="214.00" width="4.6" height="4.6" fill="#a30e35" stroke="#4e0314" stroke-width="0.6"/>
<rect x="452.00" y="221.20" width="4.6" height="4.6" fill="none" stroke="#fff" stroke-width="0.9" opacity="0.6"/>
<rect x="452.00" y="221.20" width="4.6" height="4.6" fill="#a30e35" stroke="#4e0314" stroke-width="0.6"/>
<rect x="442.50" y="238.10" width="4.6" height="4.6" fill="none" stroke="#fff" stroke-width="0.9" opacity="0.6"/>
<rect x="442.50" y="238.10" width="4.6" height="4.6" fill="#a30e35" stroke="#4e0314" stroke-width="0.6"/>
<rect x="452.00" y="240.20" width="4.6" height="4.6" fill="none" stroke="#fff" stroke-width="0.9" opacity="0.6"/>
<rect x="452.00" y="240.20" width="4.6" height="4.6" fill="#a30e35" stroke="#4e0314" stroke-width="0.6"/>
<rect x="461.40" y="239.10" width="4.6" height="4.6" fill="none" stroke="#fff" stroke-width="0.9" opacity="0.6"/>
<rect x="461.40" y="239.10" width="4.6" height="4.6" fill="#a30e35" stroke="#4e0314" stroke-width="0.6"/>
<rect x="452.00" y="250.70" width="4.6" height="4.6" fill="none" stroke="#fff" stroke-width="0.9" opacity="0.6"/>
<rect x="452.00" y="250.70" width="4.6" height="4.6" fill="#a30e35" stroke="#4e0314" stroke-width="0.6"/>
<path d="M445.30 197.35L447.70 201.85L442.90 201.85Z" fill="none" stroke="#fff" stroke-width="0.9" opacity="0.6"/>
<path d="M445.30 197.35L447.70 201.85L442.90 201.85Z" fill="#8c0c30" stroke="#3e0210" stroke-width="0.6"/>
<path d="M445.30 202.55L447.70 207.05L442.90 207.05Z" fill="none" stroke="#fff" stroke-width="0.9" opacity="0.6"/>
<path d="M445.30 202.55L447.70 207.05L442.90 207.05Z" fill="#8c0c30" stroke="#3e0210" stroke-width="0.6"/>
<path d="M454.30 197.35L456.70 201.85L451.90 201.85Z" fill="none" stroke="#fff" stroke-width="0.9" opacity="0.6"/>
<path d="M454.30 197.35L456.70 201.85L451.90 201.85Z" fill="#8c0c30" stroke="#3e0210" stroke-width="0.6"/>
<path d="M454.30 204.45L456.70 208.95L451.90 208.95Z" fill="none" stroke="#fff" stroke-width="0.9" opacity="0.6"/>
<path d="M454.30 204.45L456.70 208.95L451.90 208.95Z" fill="#8c0c30" stroke="#3e0210" stroke-width="0.6"/>
<path d="M463.90 200.15L466.30 204.65L461.50 204.65Z" fill="none" stroke="#fff" stroke-width="0.9" opacity="0.6"/>
<path d="M463.90 200.15L466.30 204.65L461.50 204.65Z" fill="#8c0c30" stroke="#3e0210" stroke-width="0.6"/>
<path d="M463.90 218.85L466.30 223.35L461.50 223.35Z" fill="none" stroke="#fff" stroke-width="0.9" opacity="0.6"/>
<path d="M463.90 218.85L466.30 223.35L461.50 223.35Z" fill="#8c0c30" stroke="#3e0210" stroke-width="0.6"/>
<line x1="454.5" y1="204.3" x2="454.5" y2="240.4" stroke="#151515" stroke-width="1"/>
<line x1="449" y1="204.5" x2="460" y2="204.5" stroke="#151515" stroke-width="1"/>
<line x1="447.4" y1="218.5" x2="465.8" y2="218.5" stroke="#151515" stroke-width="1"/>
<line x1="449" y1="240.5" x2="460" y2="240.5" stroke="#151515" stroke-width="1"/>
<rect x="482.00" y="227.30" width="4.6" height="4.6" fill="none" stroke="#fff" stroke-width="0.9" opacity="0.6"/>
<rect x="482.00" y="227.30" width="4.6" height="4.6" fill="#1d4673" stroke="#0c2440" stroke-width="0.6"/>
<rect x="485.90" y="227.00" width="4.6" height="4.6" fill="none" stroke="#fff" stroke-width="0.9" opacity="0.6"/>
<rect x="485.90" y="227.00" width="4.6" height="4.6" fill="#1d4673" stroke="#0c2440" stroke-width="0.6"/>
<rect x="477.30" y="230.10" width="4.6" height="4.6" fill="none" stroke="#fff" stroke-width="0.9" opacity="0.6"/>
<rect x="477.30" y="230.10" width="4.6" height="4.6" fill="#1d4673" stroke="#0c2440" stroke-width="0.6"/>
<rect x="497.00" y="233.50" width="4.6" height="4.6" fill="none" stroke="#fff" stroke-width="0.9" opacity="0.6"/>
<rect x="497.00" y="233.50" width="4.6" height="4.6" fill="#1d4673" stroke="#0c2440" stroke-width="0.6"/>
<rect x="478.70" y="236.00" width="4.6" height="4.6" fill="none" stroke="#fff" stroke-width="0.9" opacity="0.6"/>
<rect x="478.70" y="236.00" width="4.6" height="4.6" fill="#1d4673" stroke="#0c2440" stroke-width="0.6"/>
<rect x="482.70" y="236.30" width="4.6" height="4.6" fill="none" stroke="#fff" stroke-width="0.9" opacity="0.6"/>
<rect x="482.70" y="236.30" width="4.6" height="4.6" fill="#1d4673" stroke="#0c2440" stroke-width="0.6"/>
<rect x="486.70" y="235.70" width="4.6" height="4.6" fill="none" stroke="#fff" stroke-width="0.9" opacity="0.6"/>
<rect x="486.70" y="235.70" width="4.6" height="4.6" fill="#1d4673" stroke="#0c2440" stroke-width="0.6"/>
<rect x="490.70" y="236.30" width="4.6" height="4.6" fill="none" stroke="#fff" stroke-width="0.9" opacity="0.6"/>
<rect x="490.70" y="236.30" width="4.6" height="4.6" fill="#1d4673" stroke="#0c2440" stroke-width="0.6"/>
<rect x="494.70" y="236.90" width="4.6" height="4.6" fill="none" stroke="#fff" stroke-width="0.9" opacity="0.6"/>
<rect x="494.70" y="236.90" width="4.6" height="4.6" fill="#1d4673" stroke="#0c2440" stroke-width="0.6"/>
<rect x="498.20" y="237.30" width="4.6" height="4.6" fill="none" stroke="#fff" stroke-width="0.9" opacity="0.6"/>
<rect x="498.20" y="237.30" width="4.6" height="4.6" fill="#1d4673" stroke="#0c2440" stroke-width="0.6"/>
<rect x="481.20" y="239.50" width="4.6" height="4.6" fill="none" stroke="#fff" stroke-width="0.9" opacity="0.6"/>
<rect x="481.20" y="239.50" width="4.6" height="4.6" fill="#1d4673" stroke="#0c2440" stroke-width="0.6"/>
<rect x="485.20" y="239.90" width="4.6" height="4.6" fill="none" stroke="#fff" stroke-width="0.9" opacity="0.6"/>
<rect x="485.20" y="239.90" width="4.6" height="4.6" fill="#1d4673" stroke="#0c2440" stroke-width="0.6"/>
<rect x="489.20" y="239.50" width="4.6" height="4.6" fill="none" stroke="#fff" stroke-width="0.9" opacity="0.6"/>
<rect x="489.20" y="239.50" width="4.6" height="4.6" fill="#1d4673" stroke="#0c2440" stroke-width="0.6"/>
<rect x="493.20" y="240.30" width="4.6" height="4.6" fill="none" stroke="#fff" stroke-width="0.9" opacity="0.6"/>
<rect x="493.20" y="240.30" width="4.6" height="4.6" fill="#1d4673" stroke="#0c2440" stroke-width="0.6"/>
<rect x="496.70" y="240.70" width="4.6" height="4.6" fill="none" stroke="#fff" stroke-width="0.9" opacity="0.6"/>
<rect x="496.70" y="240.70" width="4.6" height="4.6" fill="#1d4673" stroke="#0c2440" stroke-width="0.6"/>
<rect x="488.20" y="243.50" width="4.6" height="4.6" fill="none" stroke="#fff" stroke-width="0.9" opacity="0.6"/>
<rect x="488.20" y="243.50" width="4.6" height="4.6" fill="#1d4673" stroke="#0c2440" stroke-width="0.6"/>
<rect x="492.20" y="243.90" width="4.6" height="4.6" fill="none" stroke="#fff" stroke-width="0.9" opacity="0.6"/>
<rect x="492.20" y="243.90" width="4.6" height="4.6" fill="#1d4673" stroke="#0c2440" stroke-width="0.6"/>
<rect x="491.20" y="246.30" width="4.6" height="4.6" fill="none" stroke="#fff" stroke-width="0.9" opacity="0.6"/>
<rect x="491.20" y="246.30" width="4.6" height="4.6" fill="#1d4673" stroke="#0c2440" stroke-width="0.6"/>
<path d="M489.60 222.05L492.00 226.55L487.20 226.55Z" fill="none" stroke="#fff" stroke-width="0.9" opacity="0.6"/>
<path d="M489.60 222.05L492.00 226.55L487.20 226.55Z" fill="#17263e" stroke="#0d1a2e" stroke-width="0.6"/>
<path d="M479.90 242.55L482.30 247.05L477.50 247.05Z" fill="none" stroke="#fff" stroke-width="0.9" opacity="0.6"/>
<path d="M479.90 242.55L482.30 247.05L477.50 247.05Z" fill="#17263e" stroke="#0d1a2e" stroke-width="0.6"/>
<path d="M484.20 247.55L486.60 252.05L481.80 252.05Z" fill="none" stroke="#fff" stroke-width="0.9" opacity="0.6"/>
<path d="M484.20 247.55L486.60 252.05L481.80 252.05Z" fill="#17263e" stroke="#0d1a2e" stroke-width="0.6"/>
<line x1="484" y1="233.5" x2="495" y2="233.5" stroke="#9a8a7a" stroke-width="1"/>
<line x1="482.5" y1="240.5" x2="498" y2="240.5" stroke="#9a8a7a" stroke-width="1"/>
<text x="29.1" y="177.7" font-size="10.6" fill="#111" text-anchor="start" font-weight="bold" >D</text>
<text x="109.6" y="176.2" font-size="9.2" fill="#151515" text-anchor="start" textLength="27.7" lengthAdjust="spacingAndGlyphs"  stroke="#151515" stroke-width="0.12">Spleen</text>
<text x="117.9" y="187.2" font-size="7.8" fill="#111" text-anchor="start" textLength="11" lengthAdjust="spacingAndGlyphs"  stroke="#111" stroke-width="0.12">****</text>
<line x1="105.8" y1="187.5" x2="140.4" y2="187.5" stroke="#333" stroke-width="1.2"/>
<line x1="82.2" y1="182" x2="82.2" y2="293.88" stroke="#111" stroke-width="1.5"/>
<line x1="81.5" y1="293.28" x2="164.1" y2="293.28" stroke="#111" stroke-width="1.5"/>
<line x1="79.2" y1="184.2" x2="82.2" y2="184.2" stroke="#111" stroke-width="1.5"/>
<text x="76" y="186.89999999999998" font-size="7.6" fill="#151515" text-anchor="end"  stroke="#151515" stroke-width="0.12">100</text>
<line x1="79.60000000000001" y1="196.5" x2="82.2" y2="196.5" stroke="#111" stroke-width="0.95"/>
<line x1="79.60000000000001" y1="193.5" x2="82.2" y2="193.5" stroke="#111" stroke-width="0.95"/>
<line x1="79.60000000000001" y1="191.5" x2="82.2" y2="191.5" stroke="#111" stroke-width="0.95"/>
<line x1="79.60000000000001" y1="189.5" x2="82.2" y2="189.5" stroke="#111" stroke-width="0.95"/>
<line x1="79.60000000000001" y1="188.5" x2="82.2" y2="188.5" stroke="#111" stroke-width="0.95"/>
<line x1="79.60000000000001" y1="187.5" x2="82.2" y2="187.5" stroke="#111" stroke-width="0.95"/>
<line x1="79.60000000000001" y1="185.5" x2="82.2" y2="185.5" stroke="#111" stroke-width="0.95"/>
<line x1="79.60000000000001" y1="185.5" x2="82.2" y2="185.5" stroke="#111" stroke-width="0.95"/>
<line x1="79.2" y1="202.38" x2="82.2" y2="202.38" stroke="#111" stroke-width="1.5"/>
<text x="76" y="205.07999999999998" font-size="7.6" fill="#151515" text-anchor="end"  stroke="#151515" stroke-width="0.12">10</text>
<line x1="79.60000000000001" y1="215.5" x2="82.2" y2="215.5" stroke="#111" stroke-width="0.95"/>
<line x1="79.60000000000001" y1="211.5" x2="82.2" y2="211.5" stroke="#111" stroke-width="0.95"/>
<line x1="79.60000000000001" y1="209.5" x2="82.2" y2="209.5" stroke="#111" stroke-width="0.95"/>
<line x1="79.60000000000001" y1="207.5" x2="82.2" y2="207.5" stroke="#111" stroke-width="0.95"/>
<line x1="79.60000000000001" y1="206.5" x2="82.2" y2="206.5" stroke="#111" stroke-width="0.95"/>
<line x1="79.60000000000001" y1="205.5" x2="82.2" y2="205.5" stroke="#111" stroke-width="0.95"/>
<line x1="79.60000000000001" y1="204.5" x2="82.2" y2="204.5" stroke="#111" stroke-width="0.95"/>
<line x1="79.60000000000001" y1="203.5" x2="82.2" y2="203.5" stroke="#111" stroke-width="0.95"/>
<line x1="79.2" y1="220.56" x2="82.2" y2="220.56" stroke="#111" stroke-width="1.5"/>
<text x="76" y="223.26" font-size="7.6" fill="#151515" text-anchor="end"  stroke="#151515" stroke-width="0.12">1</text>
<line x1="79.60000000000001" y1="233.5" x2="82.2" y2="233.5" stroke="#111" stroke-width="0.95"/>
<line x1="79.60000000000001" y1="230.5" x2="82.2" y2="230.5" stroke="#111" stroke-width="0.95"/>
<line x1="79.60000000000001" y1="227.5" x2="82.2" y2="227.5" stroke="#111" stroke-width="0.95"/>
<line x1="79.60000000000001" y1="226.5" x2="82.2" y2="226.5" stroke="#111" stroke-width="0.95"/>
<line x1="79.60000000000001" y1="224.5" x2="82.2" y2="224.5" stroke="#111" stroke-width="0.95"/>
<line x1="79.60000000000001" y1="223.5" x2="82.2" y2="223.5" stroke="#111" stroke-width="0.95"/>
<line x1="79.60000000000001" y1="222.5" x2="82.2" y2="222.5" stroke="#111" stroke-width="0.95"/>
<line x1="79.60000000000001" y1="221.5" x2="82.2" y2="221.5" stroke="#111" stroke-width="0.95"/>
<line x1="79.2" y1="238.73999999999998" x2="82.2" y2="238.73999999999998" stroke="#111" stroke-width="1.5"/>
<text x="76" y="241.43999999999997" font-size="7.6" fill="#151515" text-anchor="end"  stroke="#151515" stroke-width="0.12">0.1</text>
<line x1="79.60000000000001" y1="251.5" x2="82.2" y2="251.5" stroke="#111" stroke-width="0.95"/>
<line x1="79.60000000000001" y1="248.5" x2="82.2" y2="248.5" stroke="#111" stroke-width="0.95"/>
<line x1="79.60000000000001" y1="245.5" x2="82.2" y2="245.5" stroke="#111" stroke-width="0.95"/>
<line x1="79.60000000000001" y1="244.5" x2="82.2" y2="244.5" stroke="#111" stroke-width="0.95"/>
<line x1="79.60000000000001" y1="242.5" x2="82.2" y2="242.5" stroke="#111" stroke-width="0.95"/>
<line x1="79.60000000000001" y1="241.5" x2="82.2" y2="241.5" stroke="#111" stroke-width="0.95"/>
<line x1="79.60000000000001" y1="240.5" x2="82.2" y2="240.5" stroke="#111" stroke-width="0.95"/>
<line x1="79.60000000000001" y1="239.5" x2="82.2" y2="239.5" stroke="#111" stroke-width="0.95"/>
<line x1="79.2" y1="256.91999999999996" x2="82.2" y2="256.91999999999996" stroke="#111" stroke-width="1.5"/>
<text x="76" y="259.61999999999995" font-size="7.6" fill="#151515" text-anchor="end"  stroke="#151515" stroke-width="0.12">0.01</text>
<line x1="79.60000000000001" y1="269.5" x2="82.2" y2="269.5" stroke="#111" stroke-width="0.95"/>
<line x1="79.60000000000001" y1="266.5" x2="82.2" y2="266.5" stroke="#111" stroke-width="0.95"/>
<line x1="79.60000000000001" y1="264.5" x2="82.2" y2="264.5" stroke="#111" stroke-width="0.95"/>
<line x1="79.60000000000001" y1="262.5" x2="82.2" y2="262.5" stroke="#111" stroke-width="0.95"/>
<line x1="79.60000000000001" y1="260.5" x2="82.2" y2="260.5" stroke="#111" stroke-width="0.95"/>
<line x1="79.60000000000001" y1="259.5" x2="82.2" y2="259.5" stroke="#111" stroke-width="0.95"/>
<line x1="79.60000000000001" y1="258.5" x2="82.2" y2="258.5" stroke="#111" stroke-width="0.95"/>
<line x1="79.60000000000001" y1="257.5" x2="82.2" y2="257.5" stroke="#111" stroke-width="0.95"/>
<line x1="79.2" y1="275.1" x2="82.2" y2="275.1" stroke="#111" stroke-width="1.5"/>
<text x="76" y="277.8" font-size="7.6" fill="#151515" text-anchor="end"  stroke="#151515" stroke-width="0.12">0.001</text>
<line x1="79.60000000000001" y1="287.5" x2="82.2" y2="287.5" stroke="#111" stroke-width="0.95"/>
<line x1="79.60000000000001" y1="284.5" x2="82.2" y2="284.5" stroke="#111" stroke-width="0.95"/>
<line x1="79.60000000000001" y1="282.5" x2="82.2" y2="282.5" stroke="#111" stroke-width="0.95"/>
<line x1="79.60000000000001" y1="280.5" x2="82.2" y2="280.5" stroke="#111" stroke-width="0.95"/>
<line x1="79.60000000000001" y1="279.5" x2="82.2" y2="279.5" stroke="#111" stroke-width="0.95"/>
<line x1="79.60000000000001" y1="277.5" x2="82.2" y2="277.5" stroke="#111" stroke-width="0.95"/>
<line x1="79.60000000000001" y1="276.5" x2="82.2" y2="276.5" stroke="#111" stroke-width="0.95"/>
<line x1="79.60000000000001" y1="275.5" x2="82.2" y2="275.5" stroke="#111" stroke-width="0.95"/>
<line x1="79.2" y1="293.28" x2="82.2" y2="293.28" stroke="#111" stroke-width="1.5"/>
<text x="76" y="295.97999999999996" font-size="7.6" fill="#151515" text-anchor="end"  stroke="#151515" stroke-width="0.12">0.0001</text>
<line x1="105.5" y1="293.28" x2="105.5" y2="296.28" stroke="#111" stroke-width="1.2"/>
<line x1="140.5" y1="293.28" x2="140.5" y2="296.28" stroke="#111" stroke-width="1.2"/>
<text x="99.2" y="305.6" font-size="7.6" fill="#151515" text-anchor="start" textLength="13" lengthAdjust="spacingAndGlyphs"  stroke="#151515" stroke-width="0.12">B12</text>
<text x="130" y="305.6" font-size="7.6" fill="#151515" text-anchor="start" textLength="22" lengthAdjust="spacingAndGlyphs"  stroke="#151515" stroke-width="0.12">EPCO</text>
<text x="47.1" y="237.3" font-size="9.0" fill="#151515" text-anchor="middle" textLength="78" lengthAdjust="spacingAndGlyphs" transform="rotate(-90 47.1 237.3)" stroke="#151515" stroke-width="0.25">% CLL cells/nucleated cells</text>
<path d="M88.60 271.10L90.60 274.90L86.60 274.90Z" fill="none" stroke="#fff" stroke-width="0.9" opacity="0.6"/>
<path d="M88.60 271.10L90.60 274.90L86.60 274.90Z" fill="#111" stroke="#111" stroke-width="0.6"/>
<text x="94.1" y="274.9" font-size="7" fill="#1c1c1c" text-anchor="start" textLength="8.8" lengthAdjust="spacingAndGlyphs"  stroke="#1c1c1c" stroke-width="0.12">TN</text>
<rect x="86.90" y="281.70" width="3.6" height="3.6" fill="none" stroke="#fff" stroke-width="0.9" opacity="0.6"/>
<rect x="86.90" y="281.70" width="3.6" height="3.6" fill="#111" stroke="#111" stroke-width="0.6"/>
<text x="94.1" y="285.4" font-size="7" fill="#1c1c1c" text-anchor="start" textLength="14.1" lengthAdjust="spacingAndGlyphs"  stroke="#1c1c1c" stroke-width="0.12">RES</text>
<line x1="105.5" y1="203" x2="105.5" y2="233.5" stroke="#8a928e" stroke-width="1"/>
<rect x="93.80" y="195.70" width="4.6" height="4.6" fill="none" stroke="#fff" stroke-width="0.9" opacity="0.6"/>
<rect x="93.80" y="195.70" width="4.6" height="4.6" fill="#a30e35" stroke="#4e0314" stroke-width="0.6"/>
<rect x="100.00" y="199.40" width="4.6" height="4.6" fill="none" stroke="#fff" stroke-width="0.9" opacity="0.6"/>
<rect x="100.00" y="199.40" width="4.6" height="4.6" fill="#a30e35" stroke="#4e0314" stroke-width="0.6"/>
<rect x="106.70" y="198.80" width="4.6" height="4.6" fill="none" stroke="#fff" stroke-width="0.9" opacity="0.6"/>
<rect x="106.70" y="198.80" width="4.6" height="4.6" fill="#a30e35" stroke="#4e0314" stroke-width="0.6"/>
<rect x="113.30" y="196.10" width="4.6" height="4.6" fill="none" stroke="#fff" stroke-width="0.9" opacity="0.6"/>
<rect x="113.30" y="196.10" width="4.6" height="4.6" fill="#a30e35" stroke="#4e0314" stroke-width="0.6"/>
<rect x="100.00" y="217.20" width="4.6" height="4.6" fill="none" stroke="#fff" stroke-width="0.9" opacity="0.6"/>
<rect x="100.00" y="217.20" width="4.6" height="4.6" fill="#a30e35" stroke="#4e0314" stroke-width="0.6"/>
<rect x="100.00" y="221.50" width="4.6" height="4.6" fill="none" stroke="#fff" stroke-width="0.9" opacity="0.6"/>
<rect x="100.00" y="221.50" width="4.6" height="4.6" fill="#a30e35" stroke="#4e0314" stroke-width="0.6"/>
<rect x="103.20" y="230.50" width="4.6" height="4.6" fill="none" stroke="#fff" stroke-width="0.9" opacity="0.6"/>
<rect x="103.20" y="230.50" width="4.6" height="4.6" fill="#a30e35" stroke="#4e0314" stroke-width="0.6"/>
<rect x="104.00" y="250.30" width="4.6" height="4.6" fill="none" stroke="#fff" stroke-width="0.9" opacity="0.6"/>
<rect x="104.00" y="250.30" width="4.6" height="4.6" fill="#a30e35" stroke="#4e0314" stroke-width="0.6"/>
<path d="M96.50 214.35L98.90 218.85L94.10 218.85Z" fill="none" stroke="#fff" stroke-width="0.9" opacity="0.6"/>
<path d="M96.50 214.35L98.90 218.85L94.10 218.85Z" fill="#8c0c30" stroke="#3e0210" stroke-width="0.6"/>
<path d="M96.50 218.35L98.90 222.85L94.10 222.85Z" fill="none" stroke="#fff" stroke-width="0.9" opacity="0.6"/>
<path d="M96.50 218.35L98.90 222.85L94.10 222.85Z" fill="#8c0c30" stroke="#3e0210" stroke-width="0.6"/>
<path d="M109.00 214.95L111.40 219.45L106.60 219.45Z" fill="none" stroke="#fff" stroke-width="0.9" opacity="0.6"/>
<path d="M109.00 214.95L111.40 219.45L106.60 219.45Z" fill="#8c0c30" stroke="#3e0210" stroke-width="0.6"/>
<path d="M115.70 217.55L118.10 222.05L113.30 222.05Z" fill="none" stroke="#fff" stroke-width="0.9" opacity="0.6"/>
<path d="M115.70 217.55L118.10 222.05L113.30 222.05Z" fill="#8c0c30" stroke="#3e0210" stroke-width="0.6"/>
<path d="M102.10 235.95L104.50 240.45L99.70 240.45Z" fill="none" stroke="#fff" stroke-width="0.9" opacity="0.6"/>
<path d="M102.10 235.95L104.50 240.45L99.70 240.45Z" fill="#8c0c30" stroke="#3e0210" stroke-width="0.6"/>
<path d="M109.10 238.95L111.50 243.45L106.70 243.45Z" fill="none" stroke="#fff" stroke-width="0.9" opacity="0.6"/>
<path d="M109.10 238.95L111.50 243.45L106.70 243.45Z" fill="#8c0c30" stroke="#3e0210" stroke-width="0.6"/>
<line x1="94.7" y1="218.5" x2="114.3" y2="218.5" stroke="#151515" stroke-width="1"/>
<line x1="100.5" y1="233.5" x2="111.2" y2="233.5" stroke="#6a6a6a" stroke-width="1"/>
<rect x="133.40" y="241.00" width="4.6" height="4.6" fill="none" stroke="#fff" stroke-width="0.9" opacity="0.6"/>
<rect x="133.40" y="241.00" width="4.6" height="4.6" fill="#1d4673" stroke="#0c2440" stroke-width="0.6"/>
<rect x="143.10" y="241.00" width="4.6" height="4.6" fill="none" stroke="#fff" stroke-width="0.9" opacity="0.6"/>
<rect x="143.10" y="241.00" width="4.6" height="4.6" fill="#1d4673" stroke="#0c2440" stroke-width="0.6"/>
<rect x="138.70" y="256.70" width="4.6" height="4.6" fill="none" stroke="#fff" stroke-width="0.9" opacity="0.6"/>
<rect x="138.70" y="256.70" width="4.6" height="4.6" fill="#1d4673" stroke="#0c2440" stroke-width="0.6"/>
<rect x="148.30" y="255.10" width="4.6" height="4.6" fill="none" stroke="#fff" stroke-width="0.9" opacity="0.6"/>
<rect x="148.30" y="255.10" width="4.6" height="4.6" fill="#1d4673" stroke="#0c2440" stroke-width="0.6"/>
<rect x="148.30" y="258.70" width="4.6" height="4.6" fill="none" stroke="#fff" stroke-width="0.9" opacity="0.6"/>
<rect x="148.30" y="258.70" width="4.6" height="4.6" fill="#1d4673" stroke="#0c2440" stroke-width="0.6"/>
<rect x="128.80" y="264.70" width="4.6" height="4.6" fill="none" stroke="#fff" stroke-width="0.9" opacity="0.6"/>
<rect x="128.80" y="264.70" width="4.6" height="4.6" fill="#1d4673" stroke="#0c2440" stroke-width="0.6"/>
<rect x="138.90" y="261.30" width="4.6" height="4.6" fill="none" stroke="#fff" stroke-width="0.9" opacity="0.6"/>
<rect x="138.90" y="261.30" width="4.6" height="4.6" fill="#1d4673" stroke="#0c2440" stroke-width="0.6"/>
<rect x="138.90" y="270.00" width="4.6" height="4.6" fill="none" stroke="#fff" stroke-width="0.9" opacity="0.6"/>
<rect x="138.90" y="270.00" width="4.6" height="4.6" fill="#1d4673" stroke="#0c2440" stroke-width="0.6"/>
<rect x="138.90" y="275.30" width="4.6" height="4.6" fill="none" stroke="#fff" stroke-width="0.9" opacity="0.6"/>
<rect x="138.90" y="275.30" width="4.6" height="4.6" fill="#1d4673" stroke="#0c2440" stroke-width="0.6"/>
<rect x="148.30" y="261.90" width="4.6" height="4.6" fill="none" stroke="#fff" stroke-width="0.9" opacity="0.6"/>
<rect x="148.30" y="261.90" width="4.6" height="4.6" fill="#1d4673" stroke="#0c2440" stroke-width="0.6"/>
<rect x="148.30" y="272.20" width="4.6" height="4.6" fill="none" stroke="#fff" stroke-width="0.9" opacity="0.6"/>
<rect x="148.30" y="272.20" width="4.6" height="4.6" fill="#1d4673" stroke="#0c2440" stroke-width="0.6"/>
<path d="M150.50 230.35L152.90 234.85L148.10 234.85Z" fill="none" stroke="#fff" stroke-width="0.9" opacity="0.6"/>
<path d="M150.50 230.35L152.90 234.85L148.10 234.85Z" fill="#17263e" stroke="#0d1a2e" stroke-width="0.6"/>
<path d="M140.80 234.45L143.20 238.95L138.40 238.95Z" fill="none" stroke="#fff" stroke-width="0.9" opacity="0.6"/>
<path d="M140.80 234.45L143.20 238.95L138.40 238.95Z" fill="#17263e" stroke="#0d1a2e" stroke-width="0.6"/>
<path d="M140.80 252.75L143.20 257.25L138.40 257.25Z" fill="none" stroke="#fff" stroke-width="0.9" opacity="0.6"/>
<path d="M140.80 252.75L143.20 257.25L138.40 257.25Z" fill="#17263e" stroke="#0d1a2e" stroke-width="0.6"/>
<path d="M131.10 260.35L133.50 264.85L128.70 264.85Z" fill="none" stroke="#fff" stroke-width="0.9" opacity="0.6"/>
<path d="M131.10 260.35L133.50 264.85L128.70 264.85Z" fill="#17263e" stroke="#0d1a2e" stroke-width="0.6"/>
<path d="M150.60 267.25L153.00 271.75L148.20 271.75Z" fill="none" stroke="#fff" stroke-width="0.9" opacity="0.6"/>
<path d="M150.60 267.25L153.00 271.75L148.20 271.75Z" fill="#17263e" stroke="#0d1a2e" stroke-width="0.6"/>
<path d="M136.10 282.85L138.50 287.35L133.70 287.35Z" fill="none" stroke="#fff" stroke-width="0.9" opacity="0.6"/>
<path d="M136.10 282.85L138.50 287.35L133.70 287.35Z" fill="#17263e" stroke="#0d1a2e" stroke-width="0.6"/>
<path d="M145.10 281.95L147.50 286.45L142.70 286.45Z" fill="none" stroke="#fff" stroke-width="0.9" opacity="0.6"/>
<path d="M145.10 281.95L147.50 286.45L142.70 286.45Z" fill="#17263e" stroke="#0d1a2e" stroke-width="0.6"/>
<line x1="135.7" y1="246.5" x2="146.4" y2="246.5" stroke="#3a3a3a" stroke-width="1"/>
<line x1="133.4" y1="263.5" x2="148.4" y2="263.5" stroke="#3a3a3a" stroke-width="1"/>
<line x1="135.6" y1="275.5" x2="146.2" y2="275.5" stroke="#3a3a3a" stroke-width="1"/>
<line x1="141.5" y1="247" x2="141.5" y2="275.6" stroke="#6a6a6a" stroke-width="1"/>
<rect x="0.5" y="0.5" width="519" height="313" fill="none" stroke="#5a5a5a" stroke-width="1"/>
</svg></body></html>
